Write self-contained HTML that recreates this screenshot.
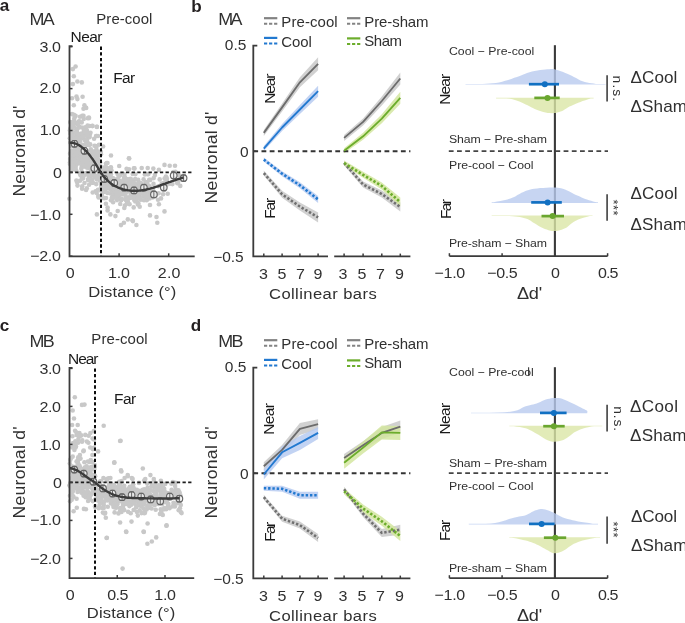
<!DOCTYPE html><html><head><meta charset="utf-8"><style>html,body{margin:0;padding:0;background:#fff;width:685px;height:623px;overflow:hidden}svg{display:block;will-change:transform}text{font-family:"Liberation Sans", sans-serif}</style></head><body><svg width="685" height="623" viewBox="0 0 685 623"><circle cx="74.2" cy="122.0" r="2.3" fill="#c8c8c8"/>
<circle cx="74.4" cy="139.5" r="2.3" fill="#c8c8c8"/>
<circle cx="74.8" cy="143.8" r="2.3" fill="#c8c8c8"/>
<circle cx="74.9" cy="147.0" r="2.3" fill="#c8c8c8"/>
<circle cx="76.1" cy="153.8" r="2.3" fill="#c8c8c8"/>
<circle cx="72.7" cy="145.6" r="2.3" fill="#c8c8c8"/>
<circle cx="70.5" cy="160.4" r="2.3" fill="#c8c8c8"/>
<circle cx="69.9" cy="130.5" r="2.3" fill="#c8c8c8"/>
<circle cx="79.8" cy="173.3" r="2.3" fill="#c8c8c8"/>
<circle cx="76.0" cy="147.2" r="2.3" fill="#c8c8c8"/>
<circle cx="71.2" cy="170.3" r="2.3" fill="#c8c8c8"/>
<circle cx="70.1" cy="153.7" r="2.3" fill="#c8c8c8"/>
<circle cx="71.5" cy="152.2" r="2.3" fill="#c8c8c8"/>
<circle cx="74.4" cy="155.7" r="2.3" fill="#c8c8c8"/>
<circle cx="74.1" cy="162.0" r="2.3" fill="#c8c8c8"/>
<circle cx="76.2" cy="136.8" r="2.3" fill="#c8c8c8"/>
<circle cx="74.7" cy="143.3" r="2.3" fill="#c8c8c8"/>
<circle cx="72.4" cy="137.9" r="2.3" fill="#c8c8c8"/>
<circle cx="80.0" cy="180.7" r="2.3" fill="#c8c8c8"/>
<circle cx="76.9" cy="151.2" r="2.3" fill="#c8c8c8"/>
<circle cx="72.8" cy="153.6" r="2.3" fill="#c8c8c8"/>
<circle cx="70.2" cy="164.3" r="2.3" fill="#c8c8c8"/>
<circle cx="77.5" cy="128.5" r="2.3" fill="#c8c8c8"/>
<circle cx="73.6" cy="169.0" r="2.3" fill="#c8c8c8"/>
<circle cx="79.6" cy="152.3" r="2.3" fill="#c8c8c8"/>
<circle cx="71.7" cy="151.6" r="2.3" fill="#c8c8c8"/>
<circle cx="79.1" cy="122.0" r="2.3" fill="#c8c8c8"/>
<circle cx="73.7" cy="159.9" r="2.3" fill="#c8c8c8"/>
<circle cx="70.3" cy="134.1" r="2.3" fill="#c8c8c8"/>
<circle cx="72.3" cy="133.1" r="2.3" fill="#c8c8c8"/>
<circle cx="70.4" cy="132.8" r="2.3" fill="#c8c8c8"/>
<circle cx="77.5" cy="185.6" r="2.3" fill="#c8c8c8"/>
<circle cx="70.7" cy="152.2" r="2.3" fill="#c8c8c8"/>
<circle cx="70.1" cy="158.9" r="2.3" fill="#c8c8c8"/>
<circle cx="77.9" cy="160.4" r="2.3" fill="#c8c8c8"/>
<circle cx="74.2" cy="169.3" r="2.3" fill="#c8c8c8"/>
<circle cx="71.5" cy="151.1" r="2.3" fill="#c8c8c8"/>
<circle cx="76.3" cy="144.1" r="2.3" fill="#c8c8c8"/>
<circle cx="70.7" cy="142.9" r="2.3" fill="#c8c8c8"/>
<circle cx="72.3" cy="157.0" r="2.3" fill="#c8c8c8"/>
<circle cx="79.7" cy="156.2" r="2.3" fill="#c8c8c8"/>
<circle cx="78.8" cy="139.9" r="2.3" fill="#c8c8c8"/>
<circle cx="71.7" cy="128.8" r="2.3" fill="#c8c8c8"/>
<circle cx="76.2" cy="170.2" r="2.3" fill="#c8c8c8"/>
<circle cx="70.6" cy="162.4" r="2.3" fill="#c8c8c8"/>
<circle cx="72.2" cy="151.3" r="2.3" fill="#c8c8c8"/>
<circle cx="77.6" cy="146.0" r="2.3" fill="#c8c8c8"/>
<circle cx="70.3" cy="163.1" r="2.3" fill="#c8c8c8"/>
<circle cx="70.4" cy="142.3" r="2.3" fill="#c8c8c8"/>
<circle cx="75.8" cy="146.4" r="2.3" fill="#c8c8c8"/>
<circle cx="73.4" cy="122.0" r="2.3" fill="#c8c8c8"/>
<circle cx="74.6" cy="163.0" r="2.3" fill="#c8c8c8"/>
<circle cx="75.5" cy="158.4" r="2.3" fill="#c8c8c8"/>
<circle cx="71.1" cy="144.9" r="2.3" fill="#c8c8c8"/>
<circle cx="79.0" cy="156.7" r="2.3" fill="#c8c8c8"/>
<circle cx="71.5" cy="141.7" r="2.3" fill="#c8c8c8"/>
<circle cx="77.3" cy="161.2" r="2.3" fill="#c8c8c8"/>
<circle cx="79.5" cy="148.4" r="2.3" fill="#c8c8c8"/>
<circle cx="78.8" cy="139.5" r="2.3" fill="#c8c8c8"/>
<circle cx="70.6" cy="142.5" r="2.3" fill="#c8c8c8"/>
<circle cx="69.9" cy="162.8" r="2.3" fill="#c8c8c8"/>
<circle cx="76.9" cy="149.4" r="2.3" fill="#c8c8c8"/>
<circle cx="72.2" cy="161.0" r="2.3" fill="#c8c8c8"/>
<circle cx="72.6" cy="133.9" r="2.3" fill="#c8c8c8"/>
<circle cx="71.3" cy="151.0" r="2.3" fill="#c8c8c8"/>
<circle cx="71.9" cy="146.4" r="2.3" fill="#c8c8c8"/>
<circle cx="75.4" cy="164.4" r="2.3" fill="#c8c8c8"/>
<circle cx="72.4" cy="135.4" r="2.3" fill="#c8c8c8"/>
<circle cx="79.1" cy="152.8" r="2.3" fill="#c8c8c8"/>
<circle cx="72.3" cy="154.6" r="2.3" fill="#c8c8c8"/>
<circle cx="74.2" cy="160.7" r="2.3" fill="#c8c8c8"/>
<circle cx="73.4" cy="155.5" r="2.3" fill="#c8c8c8"/>
<circle cx="75.5" cy="161.6" r="2.3" fill="#c8c8c8"/>
<circle cx="78.9" cy="162.5" r="2.3" fill="#c8c8c8"/>
<circle cx="79.8" cy="139.3" r="2.3" fill="#c8c8c8"/>
<circle cx="75.6" cy="132.8" r="2.3" fill="#c8c8c8"/>
<circle cx="71.0" cy="154.8" r="2.3" fill="#c8c8c8"/>
<circle cx="79.1" cy="152.6" r="2.3" fill="#c8c8c8"/>
<circle cx="76.9" cy="155.0" r="2.3" fill="#c8c8c8"/>
<circle cx="76.2" cy="151.3" r="2.3" fill="#c8c8c8"/>
<circle cx="74.6" cy="150.4" r="2.3" fill="#c8c8c8"/>
<circle cx="80.0" cy="139.0" r="2.3" fill="#c8c8c8"/>
<circle cx="70.3" cy="128.5" r="2.3" fill="#c8c8c8"/>
<circle cx="79.0" cy="145.0" r="2.3" fill="#c8c8c8"/>
<circle cx="77.2" cy="144.4" r="2.3" fill="#c8c8c8"/>
<circle cx="79.1" cy="126.5" r="2.3" fill="#c8c8c8"/>
<circle cx="73.2" cy="139.2" r="2.3" fill="#c8c8c8"/>
<circle cx="78.6" cy="122.4" r="2.3" fill="#c8c8c8"/>
<circle cx="73.9" cy="159.5" r="2.3" fill="#c8c8c8"/>
<circle cx="75.5" cy="123.0" r="2.3" fill="#c8c8c8"/>
<circle cx="76.1" cy="137.3" r="2.3" fill="#c8c8c8"/>
<circle cx="75.9" cy="165.4" r="2.3" fill="#c8c8c8"/>
<circle cx="70.3" cy="122.0" r="2.3" fill="#c8c8c8"/>
<circle cx="78.7" cy="122.0" r="2.3" fill="#c8c8c8"/>
<circle cx="77.1" cy="133.3" r="2.3" fill="#c8c8c8"/>
<circle cx="75.6" cy="167.8" r="2.3" fill="#c8c8c8"/>
<circle cx="74.1" cy="155.3" r="2.3" fill="#c8c8c8"/>
<circle cx="77.4" cy="146.7" r="2.3" fill="#c8c8c8"/>
<circle cx="69.8" cy="138.2" r="2.3" fill="#c8c8c8"/>
<circle cx="71.9" cy="141.8" r="2.3" fill="#c8c8c8"/>
<circle cx="76.8" cy="131.3" r="2.3" fill="#c8c8c8"/>
<circle cx="79.2" cy="152.4" r="2.3" fill="#c8c8c8"/>
<circle cx="72.2" cy="164.7" r="2.3" fill="#c8c8c8"/>
<circle cx="76.6" cy="152.9" r="2.3" fill="#c8c8c8"/>
<circle cx="71.6" cy="167.8" r="2.3" fill="#c8c8c8"/>
<circle cx="76.4" cy="180.5" r="2.3" fill="#c8c8c8"/>
<circle cx="74.1" cy="162.4" r="2.3" fill="#c8c8c8"/>
<circle cx="76.5" cy="143.6" r="2.3" fill="#c8c8c8"/>
<circle cx="71.6" cy="127.4" r="2.3" fill="#c8c8c8"/>
<circle cx="79.1" cy="163.4" r="2.3" fill="#c8c8c8"/>
<circle cx="78.7" cy="137.2" r="2.3" fill="#c8c8c8"/>
<circle cx="72.8" cy="165.2" r="2.3" fill="#c8c8c8"/>
<circle cx="70.9" cy="123.4" r="2.3" fill="#c8c8c8"/>
<circle cx="88.5" cy="157.6" r="2.3" fill="#c8c8c8"/>
<circle cx="87.1" cy="167.7" r="2.3" fill="#c8c8c8"/>
<circle cx="81.7" cy="153.5" r="2.3" fill="#c8c8c8"/>
<circle cx="84.5" cy="155.5" r="2.3" fill="#c8c8c8"/>
<circle cx="84.1" cy="166.6" r="2.3" fill="#c8c8c8"/>
<circle cx="86.3" cy="144.8" r="2.3" fill="#c8c8c8"/>
<circle cx="88.4" cy="157.5" r="2.3" fill="#c8c8c8"/>
<circle cx="89.8" cy="151.7" r="2.3" fill="#c8c8c8"/>
<circle cx="80.3" cy="158.6" r="2.3" fill="#c8c8c8"/>
<circle cx="88.7" cy="178.2" r="2.3" fill="#c8c8c8"/>
<circle cx="85.7" cy="162.7" r="2.3" fill="#c8c8c8"/>
<circle cx="83.1" cy="157.7" r="2.3" fill="#c8c8c8"/>
<circle cx="81.4" cy="154.3" r="2.3" fill="#c8c8c8"/>
<circle cx="84.5" cy="183.0" r="2.3" fill="#c8c8c8"/>
<circle cx="82.4" cy="161.1" r="2.3" fill="#c8c8c8"/>
<circle cx="81.4" cy="175.9" r="2.3" fill="#c8c8c8"/>
<circle cx="84.5" cy="162.7" r="2.3" fill="#c8c8c8"/>
<circle cx="86.3" cy="142.7" r="2.3" fill="#c8c8c8"/>
<circle cx="89.6" cy="136.0" r="2.3" fill="#c8c8c8"/>
<circle cx="86.8" cy="162.0" r="2.3" fill="#c8c8c8"/>
<circle cx="81.8" cy="172.1" r="2.3" fill="#c8c8c8"/>
<circle cx="80.1" cy="135.2" r="2.3" fill="#c8c8c8"/>
<circle cx="81.8" cy="160.9" r="2.3" fill="#c8c8c8"/>
<circle cx="82.7" cy="144.8" r="2.3" fill="#c8c8c8"/>
<circle cx="85.2" cy="174.8" r="2.3" fill="#c8c8c8"/>
<circle cx="86.1" cy="157.5" r="2.3" fill="#c8c8c8"/>
<circle cx="87.9" cy="143.0" r="2.3" fill="#c8c8c8"/>
<circle cx="89.1" cy="184.8" r="2.3" fill="#c8c8c8"/>
<circle cx="87.2" cy="173.9" r="2.3" fill="#c8c8c8"/>
<circle cx="81.3" cy="138.2" r="2.3" fill="#c8c8c8"/>
<circle cx="89.1" cy="162.6" r="2.3" fill="#c8c8c8"/>
<circle cx="83.8" cy="130.9" r="2.3" fill="#c8c8c8"/>
<circle cx="88.0" cy="144.9" r="2.3" fill="#c8c8c8"/>
<circle cx="89.4" cy="137.2" r="2.3" fill="#c8c8c8"/>
<circle cx="82.0" cy="161.6" r="2.3" fill="#c8c8c8"/>
<circle cx="87.2" cy="165.4" r="2.3" fill="#c8c8c8"/>
<circle cx="87.2" cy="138.8" r="2.3" fill="#c8c8c8"/>
<circle cx="82.1" cy="188.8" r="2.3" fill="#c8c8c8"/>
<circle cx="89.8" cy="133.9" r="2.3" fill="#c8c8c8"/>
<circle cx="85.4" cy="160.1" r="2.3" fill="#c8c8c8"/>
<circle cx="89.1" cy="145.1" r="2.3" fill="#c8c8c8"/>
<circle cx="88.6" cy="153.6" r="2.3" fill="#c8c8c8"/>
<circle cx="84.4" cy="161.7" r="2.3" fill="#c8c8c8"/>
<circle cx="85.5" cy="158.9" r="2.3" fill="#c8c8c8"/>
<circle cx="80.3" cy="140.9" r="2.3" fill="#c8c8c8"/>
<circle cx="88.1" cy="180.1" r="2.3" fill="#c8c8c8"/>
<circle cx="81.7" cy="166.8" r="2.3" fill="#c8c8c8"/>
<circle cx="83.4" cy="158.8" r="2.3" fill="#c8c8c8"/>
<circle cx="81.5" cy="149.5" r="2.3" fill="#c8c8c8"/>
<circle cx="85.2" cy="152.6" r="2.3" fill="#c8c8c8"/>
<circle cx="86.9" cy="130.6" r="2.3" fill="#c8c8c8"/>
<circle cx="89.5" cy="126.0" r="2.3" fill="#c8c8c8"/>
<circle cx="80.9" cy="158.6" r="2.3" fill="#c8c8c8"/>
<circle cx="82.2" cy="145.6" r="2.3" fill="#c8c8c8"/>
<circle cx="87.3" cy="155.1" r="2.3" fill="#c8c8c8"/>
<circle cx="86.4" cy="130.3" r="2.3" fill="#c8c8c8"/>
<circle cx="85.6" cy="153.2" r="2.3" fill="#c8c8c8"/>
<circle cx="83.1" cy="137.1" r="2.3" fill="#c8c8c8"/>
<circle cx="89.0" cy="175.4" r="2.3" fill="#c8c8c8"/>
<circle cx="82.1" cy="178.8" r="2.3" fill="#c8c8c8"/>
<circle cx="85.2" cy="127.3" r="2.3" fill="#c8c8c8"/>
<circle cx="85.7" cy="162.3" r="2.3" fill="#c8c8c8"/>
<circle cx="85.0" cy="173.5" r="2.3" fill="#c8c8c8"/>
<circle cx="86.1" cy="190.0" r="2.3" fill="#c8c8c8"/>
<circle cx="85.2" cy="163.4" r="2.3" fill="#c8c8c8"/>
<circle cx="84.0" cy="162.7" r="2.3" fill="#c8c8c8"/>
<circle cx="84.9" cy="139.9" r="2.3" fill="#c8c8c8"/>
<circle cx="86.9" cy="172.9" r="2.3" fill="#c8c8c8"/>
<circle cx="84.1" cy="164.0" r="2.3" fill="#c8c8c8"/>
<circle cx="89.6" cy="166.8" r="2.3" fill="#c8c8c8"/>
<circle cx="84.7" cy="151.9" r="2.3" fill="#c8c8c8"/>
<circle cx="81.3" cy="133.5" r="2.3" fill="#c8c8c8"/>
<circle cx="89.0" cy="167.4" r="2.3" fill="#c8c8c8"/>
<circle cx="84.8" cy="153.3" r="2.3" fill="#c8c8c8"/>
<circle cx="86.2" cy="165.3" r="2.3" fill="#c8c8c8"/>
<circle cx="89.3" cy="173.7" r="2.3" fill="#c8c8c8"/>
<circle cx="80.2" cy="174.7" r="2.3" fill="#c8c8c8"/>
<circle cx="81.9" cy="160.0" r="2.3" fill="#c8c8c8"/>
<circle cx="83.2" cy="178.1" r="2.3" fill="#c8c8c8"/>
<circle cx="83.6" cy="152.2" r="2.3" fill="#c8c8c8"/>
<circle cx="87.3" cy="152.5" r="2.3" fill="#c8c8c8"/>
<circle cx="81.2" cy="146.4" r="2.3" fill="#c8c8c8"/>
<circle cx="82.0" cy="156.3" r="2.3" fill="#c8c8c8"/>
<circle cx="85.3" cy="144.5" r="2.3" fill="#c8c8c8"/>
<circle cx="84.1" cy="162.3" r="2.3" fill="#c8c8c8"/>
<circle cx="85.3" cy="162.1" r="2.3" fill="#c8c8c8"/>
<circle cx="86.3" cy="165.0" r="2.3" fill="#c8c8c8"/>
<circle cx="86.4" cy="130.1" r="2.3" fill="#c8c8c8"/>
<circle cx="86.1" cy="151.9" r="2.3" fill="#c8c8c8"/>
<circle cx="88.6" cy="159.5" r="2.3" fill="#c8c8c8"/>
<circle cx="88.1" cy="179.9" r="2.3" fill="#c8c8c8"/>
<circle cx="89.0" cy="152.1" r="2.3" fill="#c8c8c8"/>
<circle cx="89.2" cy="168.1" r="2.3" fill="#c8c8c8"/>
<circle cx="82.2" cy="186.3" r="2.3" fill="#c8c8c8"/>
<circle cx="81.3" cy="156.7" r="2.3" fill="#c8c8c8"/>
<circle cx="82.4" cy="155.4" r="2.3" fill="#c8c8c8"/>
<circle cx="81.0" cy="146.3" r="2.3" fill="#c8c8c8"/>
<circle cx="88.3" cy="135.2" r="2.3" fill="#c8c8c8"/>
<circle cx="81.3" cy="168.7" r="2.3" fill="#c8c8c8"/>
<circle cx="84.0" cy="156.0" r="2.3" fill="#c8c8c8"/>
<circle cx="82.0" cy="154.6" r="2.3" fill="#c8c8c8"/>
<circle cx="86.8" cy="188.2" r="2.3" fill="#c8c8c8"/>
<circle cx="81.2" cy="137.6" r="2.3" fill="#c8c8c8"/>
<circle cx="85.1" cy="157.8" r="2.3" fill="#c8c8c8"/>
<circle cx="86.9" cy="140.5" r="2.3" fill="#c8c8c8"/>
<circle cx="81.9" cy="163.0" r="2.3" fill="#c8c8c8"/>
<circle cx="90.4" cy="168.4" r="2.3" fill="#c8c8c8"/>
<circle cx="96.1" cy="150.5" r="2.3" fill="#c8c8c8"/>
<circle cx="91.6" cy="164.6" r="2.3" fill="#c8c8c8"/>
<circle cx="92.0" cy="172.6" r="2.3" fill="#c8c8c8"/>
<circle cx="100.9" cy="188.0" r="2.3" fill="#c8c8c8"/>
<circle cx="100.2" cy="169.5" r="2.3" fill="#c8c8c8"/>
<circle cx="100.5" cy="168.4" r="2.3" fill="#c8c8c8"/>
<circle cx="95.1" cy="167.0" r="2.3" fill="#c8c8c8"/>
<circle cx="95.1" cy="155.4" r="2.3" fill="#c8c8c8"/>
<circle cx="95.7" cy="151.3" r="2.3" fill="#c8c8c8"/>
<circle cx="90.1" cy="172.9" r="2.3" fill="#c8c8c8"/>
<circle cx="97.7" cy="170.2" r="2.3" fill="#c8c8c8"/>
<circle cx="95.0" cy="159.7" r="2.3" fill="#c8c8c8"/>
<circle cx="98.1" cy="159.5" r="2.3" fill="#c8c8c8"/>
<circle cx="91.8" cy="170.4" r="2.3" fill="#c8c8c8"/>
<circle cx="95.6" cy="191.3" r="2.3" fill="#c8c8c8"/>
<circle cx="98.8" cy="168.5" r="2.3" fill="#c8c8c8"/>
<circle cx="97.8" cy="176.8" r="2.3" fill="#c8c8c8"/>
<circle cx="94.4" cy="153.0" r="2.3" fill="#c8c8c8"/>
<circle cx="96.6" cy="136.0" r="2.3" fill="#c8c8c8"/>
<circle cx="98.9" cy="165.1" r="2.3" fill="#c8c8c8"/>
<circle cx="92.8" cy="182.8" r="2.3" fill="#c8c8c8"/>
<circle cx="98.6" cy="155.5" r="2.3" fill="#c8c8c8"/>
<circle cx="99.0" cy="144.8" r="2.3" fill="#c8c8c8"/>
<circle cx="99.7" cy="180.3" r="2.3" fill="#c8c8c8"/>
<circle cx="97.6" cy="168.2" r="2.3" fill="#c8c8c8"/>
<circle cx="94.5" cy="145.7" r="2.3" fill="#c8c8c8"/>
<circle cx="97.9" cy="175.9" r="2.3" fill="#c8c8c8"/>
<circle cx="95.2" cy="170.7" r="2.3" fill="#c8c8c8"/>
<circle cx="90.1" cy="155.5" r="2.3" fill="#c8c8c8"/>
<circle cx="96.9" cy="179.5" r="2.3" fill="#c8c8c8"/>
<circle cx="92.6" cy="182.7" r="2.3" fill="#c8c8c8"/>
<circle cx="93.7" cy="159.9" r="2.3" fill="#c8c8c8"/>
<circle cx="97.3" cy="152.6" r="2.3" fill="#c8c8c8"/>
<circle cx="94.3" cy="159.7" r="2.3" fill="#c8c8c8"/>
<circle cx="101.0" cy="154.3" r="2.3" fill="#c8c8c8"/>
<circle cx="98.4" cy="151.5" r="2.3" fill="#c8c8c8"/>
<circle cx="100.8" cy="182.4" r="2.3" fill="#c8c8c8"/>
<circle cx="98.1" cy="168.4" r="2.3" fill="#c8c8c8"/>
<circle cx="92.8" cy="162.9" r="2.3" fill="#c8c8c8"/>
<circle cx="92.1" cy="168.2" r="2.3" fill="#c8c8c8"/>
<circle cx="94.1" cy="173.4" r="2.3" fill="#c8c8c8"/>
<circle cx="100.0" cy="171.3" r="2.3" fill="#c8c8c8"/>
<circle cx="96.1" cy="136.0" r="2.3" fill="#c8c8c8"/>
<circle cx="96.2" cy="164.5" r="2.3" fill="#c8c8c8"/>
<circle cx="100.9" cy="151.9" r="2.3" fill="#c8c8c8"/>
<circle cx="90.8" cy="149.3" r="2.3" fill="#c8c8c8"/>
<circle cx="96.6" cy="166.2" r="2.3" fill="#c8c8c8"/>
<circle cx="100.2" cy="162.4" r="2.3" fill="#c8c8c8"/>
<circle cx="91.8" cy="158.8" r="2.3" fill="#c8c8c8"/>
<circle cx="95.5" cy="167.3" r="2.3" fill="#c8c8c8"/>
<circle cx="96.7" cy="193.0" r="2.3" fill="#c8c8c8"/>
<circle cx="94.6" cy="176.4" r="2.3" fill="#c8c8c8"/>
<circle cx="95.8" cy="156.6" r="2.3" fill="#c8c8c8"/>
<circle cx="93.1" cy="159.4" r="2.3" fill="#c8c8c8"/>
<circle cx="97.2" cy="156.9" r="2.3" fill="#c8c8c8"/>
<circle cx="97.9" cy="162.4" r="2.3" fill="#c8c8c8"/>
<circle cx="93.3" cy="175.0" r="2.3" fill="#c8c8c8"/>
<circle cx="90.5" cy="166.8" r="2.3" fill="#c8c8c8"/>
<circle cx="91.7" cy="166.3" r="2.3" fill="#c8c8c8"/>
<circle cx="99.9" cy="154.1" r="2.3" fill="#c8c8c8"/>
<circle cx="98.2" cy="196.0" r="2.3" fill="#c8c8c8"/>
<circle cx="100.4" cy="177.1" r="2.3" fill="#c8c8c8"/>
<circle cx="90.8" cy="176.5" r="2.3" fill="#c8c8c8"/>
<circle cx="95.3" cy="158.9" r="2.3" fill="#c8c8c8"/>
<circle cx="100.7" cy="166.6" r="2.3" fill="#c8c8c8"/>
<circle cx="100.3" cy="180.6" r="2.3" fill="#c8c8c8"/>
<circle cx="98.0" cy="136.0" r="2.3" fill="#c8c8c8"/>
<circle cx="99.0" cy="172.6" r="2.3" fill="#c8c8c8"/>
<circle cx="96.6" cy="178.6" r="2.3" fill="#c8c8c8"/>
<circle cx="95.0" cy="177.1" r="2.3" fill="#c8c8c8"/>
<circle cx="92.2" cy="179.9" r="2.3" fill="#c8c8c8"/>
<circle cx="91.4" cy="170.7" r="2.3" fill="#c8c8c8"/>
<circle cx="94.9" cy="159.5" r="2.3" fill="#c8c8c8"/>
<circle cx="92.9" cy="154.5" r="2.3" fill="#c8c8c8"/>
<circle cx="96.4" cy="147.8" r="2.3" fill="#c8c8c8"/>
<circle cx="95.8" cy="176.1" r="2.3" fill="#c8c8c8"/>
<circle cx="101.0" cy="184.7" r="2.3" fill="#c8c8c8"/>
<circle cx="92.6" cy="160.3" r="2.3" fill="#c8c8c8"/>
<circle cx="91.3" cy="182.4" r="2.3" fill="#c8c8c8"/>
<circle cx="96.9" cy="152.9" r="2.3" fill="#c8c8c8"/>
<circle cx="94.0" cy="163.5" r="2.3" fill="#c8c8c8"/>
<circle cx="96.2" cy="184.1" r="2.3" fill="#c8c8c8"/>
<circle cx="96.5" cy="152.5" r="2.3" fill="#c8c8c8"/>
<circle cx="92.1" cy="151.1" r="2.3" fill="#c8c8c8"/>
<circle cx="92.7" cy="192.5" r="2.3" fill="#c8c8c8"/>
<circle cx="99.7" cy="162.6" r="2.3" fill="#c8c8c8"/>
<circle cx="90.4" cy="174.9" r="2.3" fill="#c8c8c8"/>
<circle cx="94.7" cy="169.6" r="2.3" fill="#c8c8c8"/>
<circle cx="96.9" cy="178.0" r="2.3" fill="#c8c8c8"/>
<circle cx="90.8" cy="175.0" r="2.3" fill="#c8c8c8"/>
<circle cx="91.0" cy="159.2" r="2.3" fill="#c8c8c8"/>
<circle cx="83.7" cy="118.9" r="2.3" fill="#c8c8c8"/>
<circle cx="77.9" cy="122.5" r="2.3" fill="#c8c8c8"/>
<circle cx="77.2" cy="128.7" r="2.3" fill="#c8c8c8"/>
<circle cx="86.3" cy="129.7" r="2.3" fill="#c8c8c8"/>
<circle cx="72.2" cy="125.3" r="2.3" fill="#c8c8c8"/>
<circle cx="87.7" cy="118.2" r="2.3" fill="#c8c8c8"/>
<circle cx="74.3" cy="118.4" r="2.3" fill="#c8c8c8"/>
<circle cx="79.0" cy="127.3" r="2.3" fill="#c8c8c8"/>
<circle cx="77.8" cy="142.6" r="2.3" fill="#c8c8c8"/>
<circle cx="84.2" cy="135.1" r="2.3" fill="#c8c8c8"/>
<circle cx="81.8" cy="127.5" r="2.3" fill="#c8c8c8"/>
<circle cx="86.3" cy="135.4" r="2.3" fill="#c8c8c8"/>
<circle cx="77.8" cy="124.0" r="2.3" fill="#c8c8c8"/>
<circle cx="71.7" cy="130.3" r="2.3" fill="#c8c8c8"/>
<circle cx="71.4" cy="125.7" r="2.3" fill="#c8c8c8"/>
<circle cx="82.2" cy="115.9" r="2.3" fill="#c8c8c8"/>
<circle cx="76.2" cy="129.2" r="2.3" fill="#c8c8c8"/>
<circle cx="86.9" cy="132.9" r="2.3" fill="#c8c8c8"/>
<circle cx="84.4" cy="130.5" r="2.3" fill="#c8c8c8"/>
<circle cx="71.3" cy="123.7" r="2.3" fill="#c8c8c8"/>
<circle cx="85.1" cy="140.1" r="2.3" fill="#c8c8c8"/>
<circle cx="75.9" cy="132.7" r="2.3" fill="#c8c8c8"/>
<circle cx="85.8" cy="133.9" r="2.3" fill="#c8c8c8"/>
<circle cx="77.7" cy="137.3" r="2.3" fill="#c8c8c8"/>
<circle cx="82.3" cy="136.5" r="2.3" fill="#c8c8c8"/>
<circle cx="90.2" cy="144.4" r="2.3" fill="#c8c8c8"/>
<circle cx="79.4" cy="121.5" r="2.3" fill="#c8c8c8"/>
<circle cx="87.6" cy="125.6" r="2.3" fill="#c8c8c8"/>
<circle cx="78.5" cy="134.6" r="2.3" fill="#c8c8c8"/>
<circle cx="90.5" cy="132.8" r="2.3" fill="#c8c8c8"/>
<circle cx="77.6" cy="124.3" r="2.3" fill="#c8c8c8"/>
<circle cx="77.7" cy="122.8" r="2.3" fill="#c8c8c8"/>
<circle cx="78.2" cy="134.1" r="2.3" fill="#c8c8c8"/>
<circle cx="73.9" cy="114.8" r="2.3" fill="#c8c8c8"/>
<circle cx="81.7" cy="122.4" r="2.3" fill="#c8c8c8"/>
<circle cx="111.0" cy="177.8" r="2.3" fill="#c8c8c8"/>
<circle cx="110.1" cy="180.8" r="2.3" fill="#c8c8c8"/>
<circle cx="111.6" cy="182.6" r="2.3" fill="#c8c8c8"/>
<circle cx="107.2" cy="184.9" r="2.3" fill="#c8c8c8"/>
<circle cx="107.5" cy="163.0" r="2.3" fill="#c8c8c8"/>
<circle cx="108.8" cy="173.4" r="2.3" fill="#c8c8c8"/>
<circle cx="110.7" cy="193.4" r="2.3" fill="#c8c8c8"/>
<circle cx="110.5" cy="187.4" r="2.3" fill="#c8c8c8"/>
<circle cx="102.0" cy="195.8" r="2.3" fill="#c8c8c8"/>
<circle cx="111.8" cy="190.2" r="2.3" fill="#c8c8c8"/>
<circle cx="102.0" cy="179.7" r="2.3" fill="#c8c8c8"/>
<circle cx="109.9" cy="179.3" r="2.3" fill="#c8c8c8"/>
<circle cx="108.8" cy="183.2" r="2.3" fill="#c8c8c8"/>
<circle cx="110.2" cy="189.3" r="2.3" fill="#c8c8c8"/>
<circle cx="107.3" cy="183.8" r="2.3" fill="#c8c8c8"/>
<circle cx="105.1" cy="174.0" r="2.3" fill="#c8c8c8"/>
<circle cx="112.6" cy="178.1" r="2.3" fill="#c8c8c8"/>
<circle cx="107.4" cy="173.7" r="2.3" fill="#c8c8c8"/>
<circle cx="109.7" cy="177.8" r="2.3" fill="#c8c8c8"/>
<circle cx="105.9" cy="163.7" r="2.3" fill="#c8c8c8"/>
<circle cx="110.9" cy="174.2" r="2.3" fill="#c8c8c8"/>
<circle cx="110.7" cy="167.7" r="2.3" fill="#c8c8c8"/>
<circle cx="111.0" cy="200.3" r="2.3" fill="#c8c8c8"/>
<circle cx="108.7" cy="168.4" r="2.3" fill="#c8c8c8"/>
<circle cx="107.3" cy="179.0" r="2.3" fill="#c8c8c8"/>
<circle cx="106.1" cy="167.3" r="2.3" fill="#c8c8c8"/>
<circle cx="106.0" cy="192.0" r="2.3" fill="#c8c8c8"/>
<circle cx="112.9" cy="194.8" r="2.3" fill="#c8c8c8"/>
<circle cx="105.5" cy="186.0" r="2.3" fill="#c8c8c8"/>
<circle cx="106.1" cy="188.3" r="2.3" fill="#c8c8c8"/>
<circle cx="104.5" cy="186.1" r="2.3" fill="#c8c8c8"/>
<circle cx="104.7" cy="182.4" r="2.3" fill="#c8c8c8"/>
<circle cx="102.4" cy="173.7" r="2.3" fill="#c8c8c8"/>
<circle cx="103.2" cy="170.5" r="2.3" fill="#c8c8c8"/>
<circle cx="101.7" cy="171.5" r="2.3" fill="#c8c8c8"/>
<circle cx="111.9" cy="186.1" r="2.3" fill="#c8c8c8"/>
<circle cx="101.4" cy="187.5" r="2.3" fill="#c8c8c8"/>
<circle cx="103.6" cy="186.6" r="2.3" fill="#c8c8c8"/>
<circle cx="103.8" cy="180.5" r="2.3" fill="#c8c8c8"/>
<circle cx="103.7" cy="171.2" r="2.3" fill="#c8c8c8"/>
<circle cx="103.2" cy="181.9" r="2.3" fill="#c8c8c8"/>
<circle cx="110.1" cy="188.4" r="2.3" fill="#c8c8c8"/>
<circle cx="104.7" cy="167.2" r="2.3" fill="#c8c8c8"/>
<circle cx="106.8" cy="178.0" r="2.3" fill="#c8c8c8"/>
<circle cx="104.1" cy="198.2" r="2.3" fill="#c8c8c8"/>
<circle cx="105.1" cy="170.0" r="2.3" fill="#c8c8c8"/>
<circle cx="107.6" cy="193.0" r="2.3" fill="#c8c8c8"/>
<circle cx="103.7" cy="180.2" r="2.3" fill="#c8c8c8"/>
<circle cx="101.6" cy="198.3" r="2.3" fill="#c8c8c8"/>
<circle cx="105.6" cy="177.8" r="2.3" fill="#c8c8c8"/>
<circle cx="107.3" cy="175.8" r="2.3" fill="#c8c8c8"/>
<circle cx="112.9" cy="182.3" r="2.3" fill="#c8c8c8"/>
<circle cx="108.9" cy="183.1" r="2.3" fill="#c8c8c8"/>
<circle cx="106.7" cy="184.3" r="2.3" fill="#c8c8c8"/>
<circle cx="105.5" cy="187.1" r="2.3" fill="#c8c8c8"/>
<circle cx="108.3" cy="169.4" r="2.3" fill="#c8c8c8"/>
<circle cx="102.9" cy="187.4" r="2.3" fill="#c8c8c8"/>
<circle cx="104.1" cy="189.6" r="2.3" fill="#c8c8c8"/>
<circle cx="111.4" cy="170.3" r="2.3" fill="#c8c8c8"/>
<circle cx="112.9" cy="181.7" r="2.3" fill="#c8c8c8"/>
<circle cx="104.2" cy="178.0" r="2.3" fill="#c8c8c8"/>
<circle cx="110.2" cy="181.9" r="2.3" fill="#c8c8c8"/>
<circle cx="101.0" cy="190.6" r="2.3" fill="#c8c8c8"/>
<circle cx="110.9" cy="167.3" r="2.3" fill="#c8c8c8"/>
<circle cx="102.0" cy="181.2" r="2.3" fill="#c8c8c8"/>
<circle cx="102.2" cy="197.2" r="2.3" fill="#c8c8c8"/>
<circle cx="106.8" cy="163.0" r="2.3" fill="#c8c8c8"/>
<circle cx="108.0" cy="187.4" r="2.3" fill="#c8c8c8"/>
<circle cx="111.3" cy="177.8" r="2.3" fill="#c8c8c8"/>
<circle cx="106.0" cy="198.0" r="2.3" fill="#c8c8c8"/>
<circle cx="112.0" cy="197.2" r="2.3" fill="#c8c8c8"/>
<circle cx="103.5" cy="192.1" r="2.3" fill="#c8c8c8"/>
<circle cx="107.5" cy="177.8" r="2.3" fill="#c8c8c8"/>
<circle cx="111.0" cy="182.2" r="2.3" fill="#c8c8c8"/>
<circle cx="104.7" cy="181.7" r="2.3" fill="#c8c8c8"/>
<circle cx="104.7" cy="186.3" r="2.3" fill="#c8c8c8"/>
<circle cx="106.6" cy="181.2" r="2.3" fill="#c8c8c8"/>
<circle cx="109.2" cy="174.7" r="2.3" fill="#c8c8c8"/>
<circle cx="114.3" cy="179.6" r="2.3" fill="#c8c8c8"/>
<circle cx="124.6" cy="192.8" r="2.3" fill="#c8c8c8"/>
<circle cx="123.0" cy="186.2" r="2.3" fill="#c8c8c8"/>
<circle cx="117.5" cy="185.9" r="2.3" fill="#c8c8c8"/>
<circle cx="121.5" cy="187.9" r="2.3" fill="#c8c8c8"/>
<circle cx="118.5" cy="197.9" r="2.3" fill="#c8c8c8"/>
<circle cx="113.1" cy="202.2" r="2.3" fill="#c8c8c8"/>
<circle cx="115.5" cy="186.2" r="2.3" fill="#c8c8c8"/>
<circle cx="120.4" cy="184.9" r="2.3" fill="#c8c8c8"/>
<circle cx="119.5" cy="195.0" r="2.3" fill="#c8c8c8"/>
<circle cx="116.6" cy="182.6" r="2.3" fill="#c8c8c8"/>
<circle cx="121.0" cy="194.2" r="2.3" fill="#c8c8c8"/>
<circle cx="116.1" cy="191.3" r="2.3" fill="#c8c8c8"/>
<circle cx="117.0" cy="200.1" r="2.3" fill="#c8c8c8"/>
<circle cx="124.3" cy="174.4" r="2.3" fill="#c8c8c8"/>
<circle cx="117.0" cy="181.8" r="2.3" fill="#c8c8c8"/>
<circle cx="122.9" cy="190.9" r="2.3" fill="#c8c8c8"/>
<circle cx="114.1" cy="189.6" r="2.3" fill="#c8c8c8"/>
<circle cx="121.1" cy="185.6" r="2.3" fill="#c8c8c8"/>
<circle cx="117.8" cy="181.8" r="2.3" fill="#c8c8c8"/>
<circle cx="123.0" cy="183.9" r="2.3" fill="#c8c8c8"/>
<circle cx="115.7" cy="185.0" r="2.3" fill="#c8c8c8"/>
<circle cx="114.9" cy="193.2" r="2.3" fill="#c8c8c8"/>
<circle cx="113.9" cy="193.1" r="2.3" fill="#c8c8c8"/>
<circle cx="124.0" cy="177.9" r="2.3" fill="#c8c8c8"/>
<circle cx="120.8" cy="191.5" r="2.3" fill="#c8c8c8"/>
<circle cx="122.2" cy="190.6" r="2.3" fill="#c8c8c8"/>
<circle cx="117.0" cy="179.4" r="2.3" fill="#c8c8c8"/>
<circle cx="117.9" cy="195.6" r="2.3" fill="#c8c8c8"/>
<circle cx="121.4" cy="187.8" r="2.3" fill="#c8c8c8"/>
<circle cx="124.8" cy="190.1" r="2.3" fill="#c8c8c8"/>
<circle cx="120.3" cy="174.9" r="2.3" fill="#c8c8c8"/>
<circle cx="113.2" cy="183.2" r="2.3" fill="#c8c8c8"/>
<circle cx="120.8" cy="193.8" r="2.3" fill="#c8c8c8"/>
<circle cx="114.3" cy="179.7" r="2.3" fill="#c8c8c8"/>
<circle cx="122.5" cy="194.1" r="2.3" fill="#c8c8c8"/>
<circle cx="122.9" cy="183.2" r="2.3" fill="#c8c8c8"/>
<circle cx="122.2" cy="183.8" r="2.3" fill="#c8c8c8"/>
<circle cx="123.8" cy="179.4" r="2.3" fill="#c8c8c8"/>
<circle cx="119.0" cy="184.6" r="2.3" fill="#c8c8c8"/>
<circle cx="114.7" cy="181.3" r="2.3" fill="#c8c8c8"/>
<circle cx="119.2" cy="166.0" r="2.3" fill="#c8c8c8"/>
<circle cx="121.6" cy="189.9" r="2.3" fill="#c8c8c8"/>
<circle cx="124.3" cy="182.2" r="2.3" fill="#c8c8c8"/>
<circle cx="120.5" cy="188.1" r="2.3" fill="#c8c8c8"/>
<circle cx="115.9" cy="190.4" r="2.3" fill="#c8c8c8"/>
<circle cx="119.9" cy="184.5" r="2.3" fill="#c8c8c8"/>
<circle cx="124.1" cy="179.8" r="2.3" fill="#c8c8c8"/>
<circle cx="117.3" cy="182.7" r="2.3" fill="#c8c8c8"/>
<circle cx="124.7" cy="188.0" r="2.3" fill="#c8c8c8"/>
<circle cx="114.6" cy="195.8" r="2.3" fill="#c8c8c8"/>
<circle cx="119.7" cy="181.0" r="2.3" fill="#c8c8c8"/>
<circle cx="119.7" cy="185.3" r="2.3" fill="#c8c8c8"/>
<circle cx="124.9" cy="205.5" r="2.3" fill="#c8c8c8"/>
<circle cx="122.8" cy="183.5" r="2.3" fill="#c8c8c8"/>
<circle cx="122.9" cy="184.4" r="2.3" fill="#c8c8c8"/>
<circle cx="116.5" cy="192.0" r="2.3" fill="#c8c8c8"/>
<circle cx="119.9" cy="183.2" r="2.3" fill="#c8c8c8"/>
<circle cx="123.0" cy="191.2" r="2.3" fill="#c8c8c8"/>
<circle cx="113.9" cy="196.8" r="2.3" fill="#c8c8c8"/>
<circle cx="113.4" cy="197.7" r="2.3" fill="#c8c8c8"/>
<circle cx="124.3" cy="208.0" r="2.3" fill="#c8c8c8"/>
<circle cx="120.9" cy="182.5" r="2.3" fill="#c8c8c8"/>
<circle cx="121.9" cy="198.9" r="2.3" fill="#c8c8c8"/>
<circle cx="117.6" cy="174.1" r="2.3" fill="#c8c8c8"/>
<circle cx="113.2" cy="178.6" r="2.3" fill="#c8c8c8"/>
<circle cx="115.4" cy="182.4" r="2.3" fill="#c8c8c8"/>
<circle cx="117.6" cy="187.9" r="2.3" fill="#c8c8c8"/>
<circle cx="119.8" cy="191.7" r="2.3" fill="#c8c8c8"/>
<circle cx="116.2" cy="196.1" r="2.3" fill="#c8c8c8"/>
<circle cx="119.8" cy="181.0" r="2.3" fill="#c8c8c8"/>
<circle cx="113.5" cy="197.6" r="2.3" fill="#c8c8c8"/>
<circle cx="121.1" cy="200.2" r="2.3" fill="#c8c8c8"/>
<circle cx="120.2" cy="204.0" r="2.3" fill="#c8c8c8"/>
<circle cx="118.6" cy="176.9" r="2.3" fill="#c8c8c8"/>
<circle cx="121.3" cy="193.3" r="2.3" fill="#c8c8c8"/>
<circle cx="122.1" cy="187.1" r="2.3" fill="#c8c8c8"/>
<circle cx="124.9" cy="177.2" r="2.3" fill="#c8c8c8"/>
<circle cx="135.9" cy="194.3" r="2.3" fill="#c8c8c8"/>
<circle cx="130.6" cy="182.1" r="2.3" fill="#c8c8c8"/>
<circle cx="132.4" cy="197.6" r="2.3" fill="#c8c8c8"/>
<circle cx="131.8" cy="183.2" r="2.3" fill="#c8c8c8"/>
<circle cx="130.6" cy="195.2" r="2.3" fill="#c8c8c8"/>
<circle cx="125.7" cy="184.8" r="2.3" fill="#c8c8c8"/>
<circle cx="134.4" cy="200.2" r="2.3" fill="#c8c8c8"/>
<circle cx="132.8" cy="180.9" r="2.3" fill="#c8c8c8"/>
<circle cx="134.8" cy="185.2" r="2.3" fill="#c8c8c8"/>
<circle cx="125.9" cy="199.7" r="2.3" fill="#c8c8c8"/>
<circle cx="126.6" cy="179.5" r="2.3" fill="#c8c8c8"/>
<circle cx="130.2" cy="192.3" r="2.3" fill="#c8c8c8"/>
<circle cx="125.7" cy="185.5" r="2.3" fill="#c8c8c8"/>
<circle cx="128.1" cy="179.2" r="2.3" fill="#c8c8c8"/>
<circle cx="129.0" cy="184.1" r="2.3" fill="#c8c8c8"/>
<circle cx="125.9" cy="192.8" r="2.3" fill="#c8c8c8"/>
<circle cx="136.8" cy="201.3" r="2.3" fill="#c8c8c8"/>
<circle cx="136.3" cy="186.4" r="2.3" fill="#c8c8c8"/>
<circle cx="130.5" cy="191.0" r="2.3" fill="#c8c8c8"/>
<circle cx="134.7" cy="183.3" r="2.3" fill="#c8c8c8"/>
<circle cx="132.4" cy="192.2" r="2.3" fill="#c8c8c8"/>
<circle cx="135.3" cy="186.8" r="2.3" fill="#c8c8c8"/>
<circle cx="126.6" cy="168.7" r="2.3" fill="#c8c8c8"/>
<circle cx="125.0" cy="184.1" r="2.3" fill="#c8c8c8"/>
<circle cx="128.2" cy="186.7" r="2.3" fill="#c8c8c8"/>
<circle cx="125.8" cy="196.2" r="2.3" fill="#c8c8c8"/>
<circle cx="136.6" cy="192.4" r="2.3" fill="#c8c8c8"/>
<circle cx="129.6" cy="181.2" r="2.3" fill="#c8c8c8"/>
<circle cx="132.6" cy="191.0" r="2.3" fill="#c8c8c8"/>
<circle cx="136.7" cy="189.6" r="2.3" fill="#c8c8c8"/>
<circle cx="129.0" cy="169.2" r="2.3" fill="#c8c8c8"/>
<circle cx="137.7" cy="189.2" r="2.3" fill="#c8c8c8"/>
<circle cx="131.1" cy="190.9" r="2.3" fill="#c8c8c8"/>
<circle cx="137.0" cy="195.8" r="2.3" fill="#c8c8c8"/>
<circle cx="136.7" cy="194.4" r="2.3" fill="#c8c8c8"/>
<circle cx="129.6" cy="204.3" r="2.3" fill="#c8c8c8"/>
<circle cx="131.1" cy="197.2" r="2.3" fill="#c8c8c8"/>
<circle cx="137.9" cy="204.4" r="2.3" fill="#c8c8c8"/>
<circle cx="127.6" cy="185.3" r="2.3" fill="#c8c8c8"/>
<circle cx="136.4" cy="184.9" r="2.3" fill="#c8c8c8"/>
<circle cx="125.7" cy="199.7" r="2.3" fill="#c8c8c8"/>
<circle cx="129.1" cy="197.5" r="2.3" fill="#c8c8c8"/>
<circle cx="136.7" cy="198.2" r="2.3" fill="#c8c8c8"/>
<circle cx="126.8" cy="179.2" r="2.3" fill="#c8c8c8"/>
<circle cx="134.0" cy="197.5" r="2.3" fill="#c8c8c8"/>
<circle cx="126.0" cy="185.5" r="2.3" fill="#c8c8c8"/>
<circle cx="127.9" cy="184.3" r="2.3" fill="#c8c8c8"/>
<circle cx="127.6" cy="201.5" r="2.3" fill="#c8c8c8"/>
<circle cx="127.4" cy="190.1" r="2.3" fill="#c8c8c8"/>
<circle cx="135.3" cy="201.5" r="2.3" fill="#c8c8c8"/>
<circle cx="129.8" cy="179.7" r="2.3" fill="#c8c8c8"/>
<circle cx="132.7" cy="174.0" r="2.3" fill="#c8c8c8"/>
<circle cx="128.0" cy="182.9" r="2.3" fill="#c8c8c8"/>
<circle cx="133.7" cy="207.4" r="2.3" fill="#c8c8c8"/>
<circle cx="128.6" cy="186.6" r="2.3" fill="#c8c8c8"/>
<circle cx="137.8" cy="186.2" r="2.3" fill="#c8c8c8"/>
<circle cx="130.7" cy="178.7" r="2.3" fill="#c8c8c8"/>
<circle cx="125.6" cy="187.2" r="2.3" fill="#c8c8c8"/>
<circle cx="132.8" cy="187.6" r="2.3" fill="#c8c8c8"/>
<circle cx="135.4" cy="195.3" r="2.3" fill="#c8c8c8"/>
<circle cx="126.1" cy="185.9" r="2.3" fill="#c8c8c8"/>
<circle cx="128.2" cy="202.9" r="2.3" fill="#c8c8c8"/>
<circle cx="128.6" cy="183.8" r="2.3" fill="#c8c8c8"/>
<circle cx="136.7" cy="187.4" r="2.3" fill="#c8c8c8"/>
<circle cx="137.8" cy="198.2" r="2.3" fill="#c8c8c8"/>
<circle cx="134.8" cy="191.0" r="2.3" fill="#c8c8c8"/>
<circle cx="130.0" cy="198.0" r="2.3" fill="#c8c8c8"/>
<circle cx="127.3" cy="184.7" r="2.3" fill="#c8c8c8"/>
<circle cx="132.2" cy="184.1" r="2.3" fill="#c8c8c8"/>
<circle cx="133.6" cy="182.7" r="2.3" fill="#c8c8c8"/>
<circle cx="135.2" cy="179.0" r="2.3" fill="#c8c8c8"/>
<circle cx="136.0" cy="187.9" r="2.3" fill="#c8c8c8"/>
<circle cx="133.9" cy="168.3" r="2.3" fill="#c8c8c8"/>
<circle cx="127.3" cy="186.3" r="2.3" fill="#c8c8c8"/>
<circle cx="135.1" cy="194.9" r="2.3" fill="#c8c8c8"/>
<circle cx="128.1" cy="199.0" r="2.3" fill="#c8c8c8"/>
<circle cx="130.7" cy="191.2" r="2.3" fill="#c8c8c8"/>
<circle cx="135.3" cy="174.2" r="2.3" fill="#c8c8c8"/>
<circle cx="140.8" cy="183.0" r="2.3" fill="#c8c8c8"/>
<circle cx="145.0" cy="189.4" r="2.3" fill="#c8c8c8"/>
<circle cx="144.0" cy="200.2" r="2.3" fill="#c8c8c8"/>
<circle cx="146.6" cy="191.5" r="2.3" fill="#c8c8c8"/>
<circle cx="144.9" cy="192.7" r="2.3" fill="#c8c8c8"/>
<circle cx="139.8" cy="185.2" r="2.3" fill="#c8c8c8"/>
<circle cx="138.2" cy="179.9" r="2.3" fill="#c8c8c8"/>
<circle cx="143.3" cy="189.2" r="2.3" fill="#c8c8c8"/>
<circle cx="141.2" cy="190.0" r="2.3" fill="#c8c8c8"/>
<circle cx="148.9" cy="185.9" r="2.3" fill="#c8c8c8"/>
<circle cx="144.8" cy="174.5" r="2.3" fill="#c8c8c8"/>
<circle cx="140.9" cy="185.0" r="2.3" fill="#c8c8c8"/>
<circle cx="139.8" cy="188.1" r="2.3" fill="#c8c8c8"/>
<circle cx="141.8" cy="191.3" r="2.3" fill="#c8c8c8"/>
<circle cx="145.5" cy="182.4" r="2.3" fill="#c8c8c8"/>
<circle cx="145.1" cy="187.9" r="2.3" fill="#c8c8c8"/>
<circle cx="139.1" cy="191.2" r="2.3" fill="#c8c8c8"/>
<circle cx="141.1" cy="184.3" r="2.3" fill="#c8c8c8"/>
<circle cx="139.9" cy="183.2" r="2.3" fill="#c8c8c8"/>
<circle cx="147.4" cy="174.1" r="2.3" fill="#c8c8c8"/>
<circle cx="138.7" cy="182.2" r="2.3" fill="#c8c8c8"/>
<circle cx="140.6" cy="193.3" r="2.3" fill="#c8c8c8"/>
<circle cx="149.6" cy="198.5" r="2.3" fill="#c8c8c8"/>
<circle cx="147.1" cy="191.6" r="2.3" fill="#c8c8c8"/>
<circle cx="149.8" cy="194.8" r="2.3" fill="#c8c8c8"/>
<circle cx="146.9" cy="196.4" r="2.3" fill="#c8c8c8"/>
<circle cx="138.5" cy="190.1" r="2.3" fill="#c8c8c8"/>
<circle cx="139.7" cy="206.8" r="2.3" fill="#c8c8c8"/>
<circle cx="142.7" cy="186.3" r="2.3" fill="#c8c8c8"/>
<circle cx="138.9" cy="197.5" r="2.3" fill="#c8c8c8"/>
<circle cx="138.4" cy="203.4" r="2.3" fill="#c8c8c8"/>
<circle cx="146.8" cy="188.6" r="2.3" fill="#c8c8c8"/>
<circle cx="140.8" cy="188.8" r="2.3" fill="#c8c8c8"/>
<circle cx="140.9" cy="199.8" r="2.3" fill="#c8c8c8"/>
<circle cx="143.5" cy="196.4" r="2.3" fill="#c8c8c8"/>
<circle cx="142.0" cy="185.7" r="2.3" fill="#c8c8c8"/>
<circle cx="149.8" cy="187.1" r="2.3" fill="#c8c8c8"/>
<circle cx="142.8" cy="187.4" r="2.3" fill="#c8c8c8"/>
<circle cx="145.8" cy="196.3" r="2.3" fill="#c8c8c8"/>
<circle cx="146.3" cy="191.8" r="2.3" fill="#c8c8c8"/>
<circle cx="148.4" cy="174.1" r="2.3" fill="#c8c8c8"/>
<circle cx="143.6" cy="179.4" r="2.3" fill="#c8c8c8"/>
<circle cx="142.7" cy="193.6" r="2.3" fill="#c8c8c8"/>
<circle cx="147.4" cy="182.1" r="2.3" fill="#c8c8c8"/>
<circle cx="140.6" cy="185.9" r="2.3" fill="#c8c8c8"/>
<circle cx="144.6" cy="193.4" r="2.3" fill="#c8c8c8"/>
<circle cx="140.0" cy="190.7" r="2.3" fill="#c8c8c8"/>
<circle cx="143.6" cy="194.7" r="2.3" fill="#c8c8c8"/>
<circle cx="141.7" cy="168.0" r="2.3" fill="#c8c8c8"/>
<circle cx="146.2" cy="197.8" r="2.3" fill="#c8c8c8"/>
<circle cx="148.4" cy="191.4" r="2.3" fill="#c8c8c8"/>
<circle cx="138.9" cy="197.0" r="2.3" fill="#c8c8c8"/>
<circle cx="146.3" cy="184.6" r="2.3" fill="#c8c8c8"/>
<circle cx="138.2" cy="194.2" r="2.3" fill="#c8c8c8"/>
<circle cx="140.2" cy="188.3" r="2.3" fill="#c8c8c8"/>
<circle cx="149.1" cy="197.5" r="2.3" fill="#c8c8c8"/>
<circle cx="146.6" cy="188.1" r="2.3" fill="#c8c8c8"/>
<circle cx="139.8" cy="197.0" r="2.3" fill="#c8c8c8"/>
<circle cx="149.2" cy="179.8" r="2.3" fill="#c8c8c8"/>
<circle cx="146.7" cy="200.2" r="2.3" fill="#c8c8c8"/>
<circle cx="148.9" cy="196.4" r="2.3" fill="#c8c8c8"/>
<circle cx="142.6" cy="190.0" r="2.3" fill="#c8c8c8"/>
<circle cx="139.0" cy="194.6" r="2.3" fill="#c8c8c8"/>
<circle cx="147.2" cy="183.9" r="2.3" fill="#c8c8c8"/>
<circle cx="156.2" cy="194.5" r="2.3" fill="#c8c8c8"/>
<circle cx="152.9" cy="189.7" r="2.3" fill="#c8c8c8"/>
<circle cx="150.5" cy="193.3" r="2.3" fill="#c8c8c8"/>
<circle cx="150.4" cy="195.7" r="2.3" fill="#c8c8c8"/>
<circle cx="153.7" cy="178.1" r="2.3" fill="#c8c8c8"/>
<circle cx="151.6" cy="191.6" r="2.3" fill="#c8c8c8"/>
<circle cx="158.5" cy="186.2" r="2.3" fill="#c8c8c8"/>
<circle cx="158.0" cy="199.8" r="2.3" fill="#c8c8c8"/>
<circle cx="151.8" cy="188.8" r="2.3" fill="#c8c8c8"/>
<circle cx="158.6" cy="193.2" r="2.3" fill="#c8c8c8"/>
<circle cx="154.9" cy="174.9" r="2.3" fill="#c8c8c8"/>
<circle cx="152.7" cy="197.5" r="2.3" fill="#c8c8c8"/>
<circle cx="153.5" cy="183.9" r="2.3" fill="#c8c8c8"/>
<circle cx="150.5" cy="191.6" r="2.3" fill="#c8c8c8"/>
<circle cx="150.3" cy="179.9" r="2.3" fill="#c8c8c8"/>
<circle cx="159.7" cy="179.4" r="2.3" fill="#c8c8c8"/>
<circle cx="161.7" cy="183.5" r="2.3" fill="#c8c8c8"/>
<circle cx="161.0" cy="198.4" r="2.3" fill="#c8c8c8"/>
<circle cx="164.6" cy="178.6" r="2.3" fill="#c8c8c8"/>
<circle cx="173.5" cy="172.0" r="2.3" fill="#c8c8c8"/>
<circle cx="172.4" cy="184.1" r="2.3" fill="#c8c8c8"/>
<circle cx="163.1" cy="194.3" r="2.3" fill="#c8c8c8"/>
<circle cx="167.1" cy="180.8" r="2.3" fill="#c8c8c8"/>
<circle cx="166.6" cy="184.8" r="2.3" fill="#c8c8c8"/>
<circle cx="165.9" cy="176.5" r="2.3" fill="#c8c8c8"/>
<circle cx="163.9" cy="183.1" r="2.3" fill="#c8c8c8"/>
<circle cx="166.8" cy="178.2" r="2.3" fill="#c8c8c8"/>
<circle cx="170.0" cy="183.7" r="2.3" fill="#c8c8c8"/>
<circle cx="164.9" cy="189.1" r="2.3" fill="#c8c8c8"/>
<circle cx="177.8" cy="183.0" r="2.3" fill="#c8c8c8"/>
<circle cx="175.4" cy="171.9" r="2.3" fill="#c8c8c8"/>
<circle cx="179.0" cy="175.4" r="2.3" fill="#c8c8c8"/>
<circle cx="180.3" cy="185.9" r="2.3" fill="#c8c8c8"/>
<circle cx="177.3" cy="180.9" r="2.3" fill="#c8c8c8"/>
<circle cx="174.6" cy="178.3" r="2.3" fill="#c8c8c8"/>
<circle cx="178.5" cy="181.1" r="2.3" fill="#c8c8c8"/>
<circle cx="75.6" cy="66.5" r="2.3" fill="#c8c8c8"/>
<circle cx="72.9" cy="69.1" r="2.3" fill="#c8c8c8"/>
<circle cx="73.8" cy="76.2" r="2.3" fill="#c8c8c8"/>
<circle cx="77.4" cy="81.5" r="2.3" fill="#c8c8c8"/>
<circle cx="81.8" cy="82.4" r="2.3" fill="#c8c8c8"/>
<circle cx="72.9" cy="84.1" r="2.3" fill="#c8c8c8"/>
<circle cx="72.0" cy="98.2" r="2.3" fill="#c8c8c8"/>
<circle cx="76.5" cy="96.5" r="2.3" fill="#c8c8c8"/>
<circle cx="77.4" cy="99.1" r="2.3" fill="#c8c8c8"/>
<circle cx="82.6" cy="96.8" r="2.3" fill="#c8c8c8"/>
<circle cx="73.8" cy="105.3" r="2.3" fill="#c8c8c8"/>
<circle cx="84.4" cy="105.3" r="2.3" fill="#c8c8c8"/>
<circle cx="83.5" cy="108.8" r="2.3" fill="#c8c8c8"/>
<circle cx="86.2" cy="107.9" r="2.3" fill="#c8c8c8"/>
<circle cx="72.0" cy="114.1" r="2.3" fill="#c8c8c8"/>
<circle cx="75.6" cy="115.9" r="2.3" fill="#c8c8c8"/>
<circle cx="80.0" cy="116.8" r="2.3" fill="#c8c8c8"/>
<circle cx="83.5" cy="115.9" r="2.3" fill="#c8c8c8"/>
<circle cx="88.8" cy="117.6" r="2.3" fill="#c8c8c8"/>
<circle cx="73.8" cy="121.2" r="2.3" fill="#c8c8c8"/>
<circle cx="79.1" cy="121.2" r="2.3" fill="#c8c8c8"/>
<circle cx="92.4" cy="126.1" r="2.3" fill="#c8c8c8"/>
<circle cx="96.8" cy="126.8" r="2.3" fill="#c8c8c8"/>
<circle cx="73.8" cy="126.5" r="2.3" fill="#c8c8c8"/>
<circle cx="89.0" cy="118.1" r="2.3" fill="#c8c8c8"/>
<circle cx="92.4" cy="125.7" r="2.3" fill="#c8c8c8"/>
<circle cx="96.9" cy="126.9" r="2.3" fill="#c8c8c8"/>
<circle cx="85.7" cy="133.0" r="2.3" fill="#c8c8c8"/>
<circle cx="94.1" cy="138.7" r="2.3" fill="#c8c8c8"/>
<circle cx="95.8" cy="146.0" r="2.3" fill="#c8c8c8"/>
<circle cx="103.1" cy="146.5" r="2.3" fill="#c8c8c8"/>
<circle cx="111.0" cy="155.5" r="2.3" fill="#c8c8c8"/>
<circle cx="128.9" cy="158.3" r="2.3" fill="#c8c8c8"/>
<circle cx="134.5" cy="168.4" r="2.3" fill="#c8c8c8"/>
<circle cx="77.2" cy="182.4" r="2.3" fill="#c8c8c8"/>
<circle cx="69.4" cy="198.7" r="2.3" fill="#c8c8c8"/>
<circle cx="96.9" cy="214.4" r="2.3" fill="#c8c8c8"/>
<circle cx="98.6" cy="197.5" r="2.3" fill="#c8c8c8"/>
<circle cx="98.0" cy="189.7" r="2.3" fill="#c8c8c8"/>
<circle cx="107.6" cy="210.4" r="2.3" fill="#c8c8c8"/>
<circle cx="110.4" cy="214.4" r="2.3" fill="#c8c8c8"/>
<circle cx="115.4" cy="216.1" r="2.3" fill="#c8c8c8"/>
<circle cx="121.0" cy="225.1" r="2.3" fill="#c8c8c8"/>
<circle cx="123.9" cy="222.8" r="2.3" fill="#c8c8c8"/>
<circle cx="127.8" cy="219.4" r="2.3" fill="#c8c8c8"/>
<circle cx="132.9" cy="221.1" r="2.3" fill="#c8c8c8"/>
<circle cx="126.7" cy="203.7" r="2.3" fill="#c8c8c8"/>
<circle cx="117.7" cy="211.0" r="2.3" fill="#c8c8c8"/>
<circle cx="105.9" cy="203.7" r="2.3" fill="#c8c8c8"/>
<circle cx="107.6" cy="207.6" r="2.3" fill="#c8c8c8"/>
<circle cx="164.5" cy="164.9" r="2.3" fill="#c8c8c8"/>
<circle cx="169.7" cy="165.7" r="2.3" fill="#c8c8c8"/>
<circle cx="175.0" cy="165.7" r="2.3" fill="#c8c8c8"/>
<circle cx="147.7" cy="168.0" r="2.3" fill="#c8c8c8"/>
<circle cx="153.3" cy="168.6" r="2.3" fill="#c8c8c8"/>
<circle cx="158.9" cy="169.7" r="2.3" fill="#c8c8c8"/>
<circle cx="177.4" cy="183.3" r="2.3" fill="#c8c8c8"/>
<circle cx="167.7" cy="193.8" r="2.3" fill="#c8c8c8"/>
<circle cx="158.9" cy="204.2" r="2.3" fill="#c8c8c8"/>
<circle cx="150.0" cy="205.0" r="2.3" fill="#c8c8c8"/>
<circle cx="164.5" cy="211.4" r="2.3" fill="#c8c8c8"/>
<circle cx="150.0" cy="215.4" r="2.3" fill="#c8c8c8"/>
<circle cx="156.5" cy="217.0" r="2.3" fill="#c8c8c8"/>
<circle cx="157.3" cy="222.7" r="2.3" fill="#c8c8c8"/>
<circle cx="136.4" cy="225.0" r="2.3" fill="#c8c8c8"/>
<circle cx="132.4" cy="220.3" r="2.3" fill="#c8c8c8"/>
<circle cx="129.2" cy="158.5" r="2.3" fill="#c8c8c8"/>
<line x1="101.00" y1="46.60" x2="101.00" y2="256.30" stroke="#0d0d0d" stroke-width="2.0" stroke-dasharray="3.3 2.35" stroke-linecap="butt"/>
<line x1="69.50" y1="172.40" x2="192.50" y2="172.40" stroke="#1e1e1e" stroke-width="1.6" stroke-dasharray="3.3 2.35" stroke-linecap="butt"/>
<circle cx="74.5" cy="143.8" r="3.3" fill="#f2f2f2" fill-opacity="0.75" stroke="#666" stroke-width="1.15"/>
<line x1="74.50" y1="140.40" x2="74.50" y2="147.20" stroke="#666" stroke-width="1.0" stroke-linecap="butt"/>
<line x1="72.30" y1="140.60" x2="76.70" y2="140.60" stroke="#666" stroke-width="1.0" stroke-linecap="butt"/>
<line x1="72.30" y1="147.00" x2="76.70" y2="147.00" stroke="#666" stroke-width="1.0" stroke-linecap="butt"/>
<circle cx="84.4" cy="150.8" r="3.3" fill="#f2f2f2" fill-opacity="0.75" stroke="#666" stroke-width="1.15"/>
<line x1="84.42" y1="147.40" x2="84.42" y2="154.20" stroke="#666" stroke-width="1.0" stroke-linecap="butt"/>
<line x1="82.22" y1="147.60" x2="86.62" y2="147.60" stroke="#666" stroke-width="1.0" stroke-linecap="butt"/>
<line x1="82.22" y1="154.00" x2="86.62" y2="154.00" stroke="#666" stroke-width="1.0" stroke-linecap="butt"/>
<circle cx="94.3" cy="168.3" r="3.3" fill="#f2f2f2" fill-opacity="0.75" stroke="#666" stroke-width="1.15"/>
<line x1="94.34" y1="164.90" x2="94.34" y2="171.70" stroke="#666" stroke-width="1.0" stroke-linecap="butt"/>
<line x1="92.14" y1="165.10" x2="96.54" y2="165.10" stroke="#666" stroke-width="1.0" stroke-linecap="butt"/>
<line x1="92.14" y1="171.50" x2="96.54" y2="171.50" stroke="#666" stroke-width="1.0" stroke-linecap="butt"/>
<circle cx="104.3" cy="179.0" r="3.3" fill="#f2f2f2" fill-opacity="0.75" stroke="#666" stroke-width="1.15"/>
<line x1="104.26" y1="175.60" x2="104.26" y2="182.40" stroke="#666" stroke-width="1.0" stroke-linecap="butt"/>
<line x1="102.06" y1="175.80" x2="106.46" y2="175.80" stroke="#666" stroke-width="1.0" stroke-linecap="butt"/>
<line x1="102.06" y1="182.20" x2="106.46" y2="182.20" stroke="#666" stroke-width="1.0" stroke-linecap="butt"/>
<circle cx="114.2" cy="183.0" r="3.3" fill="#f2f2f2" fill-opacity="0.75" stroke="#666" stroke-width="1.15"/>
<line x1="114.18" y1="179.60" x2="114.18" y2="186.40" stroke="#666" stroke-width="1.0" stroke-linecap="butt"/>
<line x1="111.98" y1="179.80" x2="116.38" y2="179.80" stroke="#666" stroke-width="1.0" stroke-linecap="butt"/>
<line x1="111.98" y1="186.20" x2="116.38" y2="186.20" stroke="#666" stroke-width="1.0" stroke-linecap="butt"/>
<circle cx="124.1" cy="187.6" r="3.3" fill="#f2f2f2" fill-opacity="0.75" stroke="#666" stroke-width="1.15"/>
<line x1="124.10" y1="184.20" x2="124.10" y2="191.00" stroke="#666" stroke-width="1.0" stroke-linecap="butt"/>
<line x1="121.90" y1="184.40" x2="126.30" y2="184.40" stroke="#666" stroke-width="1.0" stroke-linecap="butt"/>
<line x1="121.90" y1="190.80" x2="126.30" y2="190.80" stroke="#666" stroke-width="1.0" stroke-linecap="butt"/>
<circle cx="134.0" cy="190.4" r="3.3" fill="#f2f2f2" fill-opacity="0.75" stroke="#666" stroke-width="1.15"/>
<line x1="134.02" y1="187.00" x2="134.02" y2="193.80" stroke="#666" stroke-width="1.0" stroke-linecap="butt"/>
<line x1="131.82" y1="187.20" x2="136.22" y2="187.20" stroke="#666" stroke-width="1.0" stroke-linecap="butt"/>
<line x1="131.82" y1="193.60" x2="136.22" y2="193.60" stroke="#666" stroke-width="1.0" stroke-linecap="butt"/>
<circle cx="143.9" cy="187.6" r="3.3" fill="#f2f2f2" fill-opacity="0.75" stroke="#666" stroke-width="1.15"/>
<line x1="143.94" y1="184.20" x2="143.94" y2="191.00" stroke="#666" stroke-width="1.0" stroke-linecap="butt"/>
<line x1="141.74" y1="184.40" x2="146.14" y2="184.40" stroke="#666" stroke-width="1.0" stroke-linecap="butt"/>
<line x1="141.74" y1="190.80" x2="146.14" y2="190.80" stroke="#666" stroke-width="1.0" stroke-linecap="butt"/>
<circle cx="153.9" cy="194.4" r="3.3" fill="#f2f2f2" fill-opacity="0.75" stroke="#666" stroke-width="1.15"/>
<line x1="153.86" y1="191.00" x2="153.86" y2="197.80" stroke="#666" stroke-width="1.0" stroke-linecap="butt"/>
<line x1="151.66" y1="191.20" x2="156.06" y2="191.20" stroke="#666" stroke-width="1.0" stroke-linecap="butt"/>
<line x1="151.66" y1="197.60" x2="156.06" y2="197.60" stroke="#666" stroke-width="1.0" stroke-linecap="butt"/>
<circle cx="163.8" cy="187.6" r="3.3" fill="#f2f2f2" fill-opacity="0.75" stroke="#666" stroke-width="1.15"/>
<line x1="163.78" y1="184.20" x2="163.78" y2="191.00" stroke="#666" stroke-width="1.0" stroke-linecap="butt"/>
<line x1="161.58" y1="184.40" x2="165.98" y2="184.40" stroke="#666" stroke-width="1.0" stroke-linecap="butt"/>
<line x1="161.58" y1="190.80" x2="165.98" y2="190.80" stroke="#666" stroke-width="1.0" stroke-linecap="butt"/>
<circle cx="173.7" cy="175.4" r="3.3" fill="#f2f2f2" fill-opacity="0.75" stroke="#666" stroke-width="1.15"/>
<line x1="173.70" y1="172.00" x2="173.70" y2="178.80" stroke="#666" stroke-width="1.0" stroke-linecap="butt"/>
<line x1="171.50" y1="172.20" x2="175.90" y2="172.20" stroke="#666" stroke-width="1.0" stroke-linecap="butt"/>
<line x1="171.50" y1="178.60" x2="175.90" y2="178.60" stroke="#666" stroke-width="1.0" stroke-linecap="butt"/>
<circle cx="183.6" cy="178.1" r="3.3" fill="#f2f2f2" fill-opacity="0.75" stroke="#666" stroke-width="1.15"/>
<line x1="183.62" y1="174.70" x2="183.62" y2="181.50" stroke="#666" stroke-width="1.0" stroke-linecap="butt"/>
<line x1="181.42" y1="174.90" x2="185.82" y2="174.90" stroke="#666" stroke-width="1.0" stroke-linecap="butt"/>
<line x1="181.42" y1="181.30" x2="185.82" y2="181.30" stroke="#666" stroke-width="1.0" stroke-linecap="butt"/>
<path d="M69.5,142.5 L69.9,142.6 L70.4,142.6 L71.0,142.7 L71.7,142.8 L72.4,142.9 L73.1,143.0 L73.8,143.1 L74.5,143.3 L75.1,143.5 L75.8,143.7 L76.4,143.9 L77.0,144.2 L77.6,144.5 L78.2,144.8 L78.9,145.1 L79.5,145.5 L80.1,145.9 L80.8,146.3 L81.4,146.8 L82.0,147.3 L82.6,147.8 L83.2,148.4 L83.9,148.9 L84.5,149.5 L85.1,150.1 L85.8,150.7 L86.4,151.4 L87.0,152.1 L87.6,152.8 L88.2,153.5 L88.9,154.2 L89.5,155.0 L90.1,155.8 L90.7,156.6 L91.3,157.4 L91.9,158.2 L92.5,159.1 L93.2,160.0 L93.8,161.0 L94.5,162.0 L95.2,163.2 L96.0,164.4 L96.8,165.8 L97.6,167.2 L98.5,168.6 L99.3,169.9 L100.1,171.2 L100.8,172.3 L101.5,173.3 L102.1,174.2 L102.7,175.1 L103.3,175.9 L103.9,176.7 L104.5,177.4 L105.2,178.2 L106.0,179.0 L106.9,179.8 L107.8,180.7 L108.7,181.6 L109.7,182.4 L110.7,183.3 L111.8,184.1 L112.9,184.8 L114.0,185.5 L115.2,186.1 L116.4,186.7 L117.6,187.3 L118.9,187.8 L120.2,188.3 L121.5,188.7 L122.7,189.1 L124.0,189.5 L125.2,189.8 L126.5,190.1 L127.8,190.3 L129.0,190.4 L130.2,190.6 L131.5,190.7 L132.8,190.8 L134.0,190.8 L135.2,190.8 L136.5,190.8 L137.8,190.7 L139.0,190.6 L140.2,190.5 L141.5,190.4 L142.8,190.2 L144.0,190.0 L145.2,189.8 L146.5,189.5 L147.8,189.2 L149.0,188.9 L150.2,188.6 L151.5,188.2 L152.8,187.9 L154.0,187.5 L155.2,187.1 L156.5,186.7 L157.8,186.3 L159.0,185.8 L160.2,185.4 L161.5,184.9 L162.8,184.4 L164.0,184.0 L165.3,183.6 L166.5,183.1 L167.8,182.7 L169.0,182.2 L170.3,181.8 L171.5,181.3 L172.8,180.9 L174.0,180.5 L175.3,180.1 L176.6,179.6 L178.0,179.2 L179.4,178.8 L180.7,178.4 L181.8,178.0 L182.8,177.7 L183.5,177.5" stroke="#3c3c3c" stroke-width="2.4" fill="none" stroke-linejoin="round"/>
<path d="M72.5,46.1 H69.5 V256.3 H194.7" stroke="#3b3b3b" stroke-width="1.8" fill="none"/>
<line x1="69.50" y1="46.70" x2="72.50" y2="46.70" stroke="#3b3b3b" stroke-width="1.5" stroke-linecap="butt"/>
<line x1="69.50" y1="88.60" x2="72.50" y2="88.60" stroke="#3b3b3b" stroke-width="1.5" stroke-linecap="butt"/>
<line x1="69.50" y1="130.50" x2="72.50" y2="130.50" stroke="#3b3b3b" stroke-width="1.5" stroke-linecap="butt"/>
<line x1="69.50" y1="172.40" x2="72.50" y2="172.40" stroke="#3b3b3b" stroke-width="1.5" stroke-linecap="butt"/>
<line x1="69.50" y1="214.30" x2="72.50" y2="214.30" stroke="#3b3b3b" stroke-width="1.5" stroke-linecap="butt"/>
<line x1="69.50" y1="256.20" x2="72.50" y2="256.20" stroke="#3b3b3b" stroke-width="1.5" stroke-linecap="butt"/>
<line x1="119.10" y1="256.30" x2="119.10" y2="253.30" stroke="#3b3b3b" stroke-width="1.5" stroke-linecap="butt"/>
<line x1="168.70" y1="256.30" x2="168.70" y2="253.30" stroke="#3b3b3b" stroke-width="1.5" stroke-linecap="butt"/>
<circle cx="76.8" cy="467.6" r="2.3" fill="#c8c8c8"/>
<circle cx="72.7" cy="480.1" r="2.3" fill="#c8c8c8"/>
<circle cx="69.8" cy="463.5" r="2.3" fill="#c8c8c8"/>
<circle cx="76.6" cy="498.7" r="2.3" fill="#c8c8c8"/>
<circle cx="72.8" cy="474.2" r="2.3" fill="#c8c8c8"/>
<circle cx="75.4" cy="471.3" r="2.3" fill="#c8c8c8"/>
<circle cx="77.2" cy="488.9" r="2.3" fill="#c8c8c8"/>
<circle cx="76.7" cy="474.8" r="2.3" fill="#c8c8c8"/>
<circle cx="81.3" cy="480.3" r="2.3" fill="#c8c8c8"/>
<circle cx="77.3" cy="461.3" r="2.3" fill="#c8c8c8"/>
<circle cx="74.6" cy="469.7" r="2.3" fill="#c8c8c8"/>
<circle cx="79.9" cy="482.9" r="2.3" fill="#c8c8c8"/>
<circle cx="80.5" cy="458.6" r="2.3" fill="#c8c8c8"/>
<circle cx="70.0" cy="495.8" r="2.3" fill="#c8c8c8"/>
<circle cx="71.2" cy="467.7" r="2.3" fill="#c8c8c8"/>
<circle cx="74.0" cy="477.5" r="2.3" fill="#c8c8c8"/>
<circle cx="81.7" cy="482.6" r="2.3" fill="#c8c8c8"/>
<circle cx="72.4" cy="484.3" r="2.3" fill="#c8c8c8"/>
<circle cx="78.0" cy="478.1" r="2.3" fill="#c8c8c8"/>
<circle cx="76.3" cy="478.5" r="2.3" fill="#c8c8c8"/>
<circle cx="74.4" cy="478.9" r="2.3" fill="#c8c8c8"/>
<circle cx="77.6" cy="492.0" r="2.3" fill="#c8c8c8"/>
<circle cx="76.4" cy="467.1" r="2.3" fill="#c8c8c8"/>
<circle cx="79.9" cy="467.2" r="2.3" fill="#c8c8c8"/>
<circle cx="81.6" cy="472.5" r="2.3" fill="#c8c8c8"/>
<circle cx="80.6" cy="487.6" r="2.3" fill="#c8c8c8"/>
<circle cx="73.4" cy="474.1" r="2.3" fill="#c8c8c8"/>
<circle cx="78.1" cy="459.9" r="2.3" fill="#c8c8c8"/>
<circle cx="81.5" cy="481.2" r="2.3" fill="#c8c8c8"/>
<circle cx="77.3" cy="471.7" r="2.3" fill="#c8c8c8"/>
<circle cx="75.6" cy="467.4" r="2.3" fill="#c8c8c8"/>
<circle cx="73.1" cy="473.5" r="2.3" fill="#c8c8c8"/>
<circle cx="78.9" cy="469.4" r="2.3" fill="#c8c8c8"/>
<circle cx="72.6" cy="476.1" r="2.3" fill="#c8c8c8"/>
<circle cx="73.6" cy="484.3" r="2.3" fill="#c8c8c8"/>
<circle cx="71.1" cy="491.0" r="2.3" fill="#c8c8c8"/>
<circle cx="70.3" cy="483.1" r="2.3" fill="#c8c8c8"/>
<circle cx="78.3" cy="480.3" r="2.3" fill="#c8c8c8"/>
<circle cx="70.9" cy="458.3" r="2.3" fill="#c8c8c8"/>
<circle cx="75.5" cy="484.2" r="2.3" fill="#c8c8c8"/>
<circle cx="71.5" cy="494.2" r="2.3" fill="#c8c8c8"/>
<circle cx="70.2" cy="460.0" r="2.3" fill="#c8c8c8"/>
<circle cx="72.7" cy="456.6" r="2.3" fill="#c8c8c8"/>
<circle cx="74.4" cy="477.0" r="2.3" fill="#c8c8c8"/>
<circle cx="78.4" cy="477.8" r="2.3" fill="#c8c8c8"/>
<circle cx="73.6" cy="497.0" r="2.3" fill="#c8c8c8"/>
<circle cx="73.7" cy="479.3" r="2.3" fill="#c8c8c8"/>
<circle cx="79.9" cy="455.0" r="2.3" fill="#c8c8c8"/>
<circle cx="76.6" cy="461.5" r="2.3" fill="#c8c8c8"/>
<circle cx="77.3" cy="487.0" r="2.3" fill="#c8c8c8"/>
<circle cx="79.9" cy="480.0" r="2.3" fill="#c8c8c8"/>
<circle cx="74.2" cy="472.1" r="2.3" fill="#c8c8c8"/>
<circle cx="77.9" cy="478.9" r="2.3" fill="#c8c8c8"/>
<circle cx="69.7" cy="485.6" r="2.3" fill="#c8c8c8"/>
<circle cx="76.8" cy="507.7" r="2.3" fill="#c8c8c8"/>
<circle cx="71.2" cy="466.5" r="2.3" fill="#c8c8c8"/>
<circle cx="78.1" cy="463.2" r="2.3" fill="#c8c8c8"/>
<circle cx="74.5" cy="486.2" r="2.3" fill="#c8c8c8"/>
<circle cx="81.2" cy="481.8" r="2.3" fill="#c8c8c8"/>
<circle cx="78.4" cy="477.7" r="2.3" fill="#c8c8c8"/>
<circle cx="71.0" cy="487.5" r="2.3" fill="#c8c8c8"/>
<circle cx="78.6" cy="480.6" r="2.3" fill="#c8c8c8"/>
<circle cx="81.9" cy="485.8" r="2.3" fill="#c8c8c8"/>
<circle cx="69.8" cy="485.4" r="2.3" fill="#c8c8c8"/>
<circle cx="76.3" cy="466.5" r="2.3" fill="#c8c8c8"/>
<circle cx="73.4" cy="479.2" r="2.3" fill="#c8c8c8"/>
<circle cx="79.5" cy="483.2" r="2.3" fill="#c8c8c8"/>
<circle cx="74.4" cy="469.7" r="2.3" fill="#c8c8c8"/>
<circle cx="77.2" cy="481.3" r="2.3" fill="#c8c8c8"/>
<circle cx="74.4" cy="450.0" r="2.3" fill="#c8c8c8"/>
<circle cx="78.2" cy="457.4" r="2.3" fill="#c8c8c8"/>
<circle cx="71.3" cy="471.9" r="2.3" fill="#c8c8c8"/>
<circle cx="71.7" cy="499.8" r="2.3" fill="#c8c8c8"/>
<circle cx="72.6" cy="495.4" r="2.3" fill="#c8c8c8"/>
<circle cx="75.6" cy="485.7" r="2.3" fill="#c8c8c8"/>
<circle cx="69.7" cy="485.3" r="2.3" fill="#c8c8c8"/>
<circle cx="76.6" cy="488.4" r="2.3" fill="#c8c8c8"/>
<circle cx="72.9" cy="491.2" r="2.3" fill="#c8c8c8"/>
<circle cx="72.3" cy="466.6" r="2.3" fill="#c8c8c8"/>
<circle cx="72.7" cy="479.3" r="2.3" fill="#c8c8c8"/>
<circle cx="70.1" cy="501.3" r="2.3" fill="#c8c8c8"/>
<circle cx="73.4" cy="488.0" r="2.3" fill="#c8c8c8"/>
<circle cx="70.5" cy="483.7" r="2.3" fill="#c8c8c8"/>
<circle cx="82.0" cy="490.6" r="2.3" fill="#c8c8c8"/>
<circle cx="72.0" cy="487.3" r="2.3" fill="#c8c8c8"/>
<circle cx="74.7" cy="467.8" r="2.3" fill="#c8c8c8"/>
<circle cx="79.6" cy="474.7" r="2.3" fill="#c8c8c8"/>
<circle cx="76.4" cy="480.5" r="2.3" fill="#c8c8c8"/>
<circle cx="77.7" cy="471.1" r="2.3" fill="#c8c8c8"/>
<circle cx="81.2" cy="471.2" r="2.3" fill="#c8c8c8"/>
<circle cx="80.3" cy="491.0" r="2.3" fill="#c8c8c8"/>
<circle cx="79.9" cy="477.5" r="2.3" fill="#c8c8c8"/>
<circle cx="78.6" cy="479.3" r="2.3" fill="#c8c8c8"/>
<circle cx="71.6" cy="480.5" r="2.3" fill="#c8c8c8"/>
<circle cx="71.0" cy="488.1" r="2.3" fill="#c8c8c8"/>
<circle cx="78.9" cy="483.1" r="2.3" fill="#c8c8c8"/>
<circle cx="73.4" cy="476.3" r="2.3" fill="#c8c8c8"/>
<circle cx="72.1" cy="477.8" r="2.3" fill="#c8c8c8"/>
<circle cx="81.5" cy="492.7" r="2.3" fill="#c8c8c8"/>
<circle cx="79.6" cy="479.0" r="2.3" fill="#c8c8c8"/>
<circle cx="79.4" cy="476.9" r="2.3" fill="#c8c8c8"/>
<circle cx="79.5" cy="465.9" r="2.3" fill="#c8c8c8"/>
<circle cx="79.8" cy="481.9" r="2.3" fill="#c8c8c8"/>
<circle cx="72.1" cy="425.0" r="2.3" fill="#c8c8c8"/>
<circle cx="93.7" cy="431.1" r="2.3" fill="#c8c8c8"/>
<circle cx="75.9" cy="446.3" r="2.3" fill="#c8c8c8"/>
<circle cx="92.7" cy="449.1" r="2.3" fill="#c8c8c8"/>
<circle cx="75.3" cy="441.4" r="2.3" fill="#c8c8c8"/>
<circle cx="79.4" cy="433.0" r="2.3" fill="#c8c8c8"/>
<circle cx="90.2" cy="447.5" r="2.3" fill="#c8c8c8"/>
<circle cx="78.8" cy="435.8" r="2.3" fill="#c8c8c8"/>
<circle cx="76.6" cy="435.0" r="2.3" fill="#c8c8c8"/>
<circle cx="92.6" cy="438.6" r="2.3" fill="#c8c8c8"/>
<circle cx="78.0" cy="442.8" r="2.3" fill="#c8c8c8"/>
<circle cx="88.4" cy="442.8" r="2.3" fill="#c8c8c8"/>
<circle cx="83.4" cy="451.2" r="2.3" fill="#c8c8c8"/>
<circle cx="86.8" cy="441.5" r="2.3" fill="#c8c8c8"/>
<circle cx="73.1" cy="443.0" r="2.3" fill="#c8c8c8"/>
<circle cx="78.4" cy="439.1" r="2.3" fill="#c8c8c8"/>
<circle cx="82.3" cy="440.4" r="2.3" fill="#c8c8c8"/>
<circle cx="79.8" cy="436.2" r="2.3" fill="#c8c8c8"/>
<circle cx="93.8" cy="447.8" r="2.3" fill="#c8c8c8"/>
<circle cx="74.7" cy="444.5" r="2.3" fill="#c8c8c8"/>
<circle cx="88.7" cy="435.8" r="2.3" fill="#c8c8c8"/>
<circle cx="72.3" cy="447.4" r="2.3" fill="#c8c8c8"/>
<circle cx="94.0" cy="439.4" r="2.3" fill="#c8c8c8"/>
<circle cx="75.1" cy="430.8" r="2.3" fill="#c8c8c8"/>
<circle cx="74.0" cy="446.0" r="2.3" fill="#c8c8c8"/>
<circle cx="76.5" cy="432.5" r="2.3" fill="#c8c8c8"/>
<circle cx="77.7" cy="425.0" r="2.3" fill="#c8c8c8"/>
<circle cx="84.4" cy="462.3" r="2.3" fill="#c8c8c8"/>
<circle cx="83.9" cy="508.9" r="2.3" fill="#c8c8c8"/>
<circle cx="90.3" cy="471.6" r="2.3" fill="#c8c8c8"/>
<circle cx="84.8" cy="494.0" r="2.3" fill="#c8c8c8"/>
<circle cx="90.0" cy="499.5" r="2.3" fill="#c8c8c8"/>
<circle cx="90.2" cy="468.9" r="2.3" fill="#c8c8c8"/>
<circle cx="88.6" cy="478.1" r="2.3" fill="#c8c8c8"/>
<circle cx="92.9" cy="480.8" r="2.3" fill="#c8c8c8"/>
<circle cx="91.0" cy="467.4" r="2.3" fill="#c8c8c8"/>
<circle cx="87.5" cy="487.7" r="2.3" fill="#c8c8c8"/>
<circle cx="87.0" cy="484.9" r="2.3" fill="#c8c8c8"/>
<circle cx="89.4" cy="497.8" r="2.3" fill="#c8c8c8"/>
<circle cx="88.7" cy="498.1" r="2.3" fill="#c8c8c8"/>
<circle cx="87.8" cy="486.1" r="2.3" fill="#c8c8c8"/>
<circle cx="89.7" cy="461.9" r="2.3" fill="#c8c8c8"/>
<circle cx="84.0" cy="468.7" r="2.3" fill="#c8c8c8"/>
<circle cx="88.1" cy="501.0" r="2.3" fill="#c8c8c8"/>
<circle cx="86.1" cy="482.2" r="2.3" fill="#c8c8c8"/>
<circle cx="91.6" cy="494.1" r="2.3" fill="#c8c8c8"/>
<circle cx="93.3" cy="482.3" r="2.3" fill="#c8c8c8"/>
<circle cx="83.6" cy="495.8" r="2.3" fill="#c8c8c8"/>
<circle cx="85.0" cy="482.2" r="2.3" fill="#c8c8c8"/>
<circle cx="92.9" cy="467.7" r="2.3" fill="#c8c8c8"/>
<circle cx="92.8" cy="462.1" r="2.3" fill="#c8c8c8"/>
<circle cx="92.4" cy="455.0" r="2.3" fill="#c8c8c8"/>
<circle cx="82.8" cy="480.5" r="2.3" fill="#c8c8c8"/>
<circle cx="93.3" cy="481.0" r="2.3" fill="#c8c8c8"/>
<circle cx="92.5" cy="474.9" r="2.3" fill="#c8c8c8"/>
<circle cx="87.9" cy="461.5" r="2.3" fill="#c8c8c8"/>
<circle cx="84.5" cy="478.0" r="2.3" fill="#c8c8c8"/>
<circle cx="85.6" cy="480.3" r="2.3" fill="#c8c8c8"/>
<circle cx="89.2" cy="479.6" r="2.3" fill="#c8c8c8"/>
<circle cx="92.2" cy="474.8" r="2.3" fill="#c8c8c8"/>
<circle cx="92.4" cy="483.5" r="2.3" fill="#c8c8c8"/>
<circle cx="93.1" cy="484.8" r="2.3" fill="#c8c8c8"/>
<circle cx="93.8" cy="469.2" r="2.3" fill="#c8c8c8"/>
<circle cx="92.4" cy="489.1" r="2.3" fill="#c8c8c8"/>
<circle cx="83.3" cy="491.6" r="2.3" fill="#c8c8c8"/>
<circle cx="82.5" cy="470.5" r="2.3" fill="#c8c8c8"/>
<circle cx="92.8" cy="501.1" r="2.3" fill="#c8c8c8"/>
<circle cx="83.5" cy="487.5" r="2.3" fill="#c8c8c8"/>
<circle cx="93.0" cy="492.9" r="2.3" fill="#c8c8c8"/>
<circle cx="90.0" cy="486.5" r="2.3" fill="#c8c8c8"/>
<circle cx="94.8" cy="480.5" r="2.3" fill="#c8c8c8"/>
<circle cx="84.7" cy="467.5" r="2.3" fill="#c8c8c8"/>
<circle cx="91.5" cy="466.7" r="2.3" fill="#c8c8c8"/>
<circle cx="84.6" cy="477.3" r="2.3" fill="#c8c8c8"/>
<circle cx="82.2" cy="472.8" r="2.3" fill="#c8c8c8"/>
<circle cx="86.4" cy="476.8" r="2.3" fill="#c8c8c8"/>
<circle cx="85.6" cy="497.2" r="2.3" fill="#c8c8c8"/>
<circle cx="89.8" cy="480.6" r="2.3" fill="#c8c8c8"/>
<circle cx="83.7" cy="476.5" r="2.3" fill="#c8c8c8"/>
<circle cx="91.0" cy="477.3" r="2.3" fill="#c8c8c8"/>
<circle cx="83.5" cy="484.2" r="2.3" fill="#c8c8c8"/>
<circle cx="94.2" cy="475.0" r="2.3" fill="#c8c8c8"/>
<circle cx="84.6" cy="476.4" r="2.3" fill="#c8c8c8"/>
<circle cx="94.9" cy="476.6" r="2.3" fill="#c8c8c8"/>
<circle cx="86.7" cy="466.2" r="2.3" fill="#c8c8c8"/>
<circle cx="86.0" cy="477.8" r="2.3" fill="#c8c8c8"/>
<circle cx="90.2" cy="486.4" r="2.3" fill="#c8c8c8"/>
<circle cx="87.5" cy="487.8" r="2.3" fill="#c8c8c8"/>
<circle cx="87.9" cy="472.8" r="2.3" fill="#c8c8c8"/>
<circle cx="88.6" cy="492.5" r="2.3" fill="#c8c8c8"/>
<circle cx="91.1" cy="479.4" r="2.3" fill="#c8c8c8"/>
<circle cx="85.1" cy="475.1" r="2.3" fill="#c8c8c8"/>
<circle cx="93.3" cy="478.7" r="2.3" fill="#c8c8c8"/>
<circle cx="85.7" cy="493.1" r="2.3" fill="#c8c8c8"/>
<circle cx="87.9" cy="469.9" r="2.3" fill="#c8c8c8"/>
<circle cx="94.1" cy="469.2" r="2.3" fill="#c8c8c8"/>
<circle cx="89.8" cy="494.8" r="2.3" fill="#c8c8c8"/>
<circle cx="87.8" cy="493.5" r="2.3" fill="#c8c8c8"/>
<circle cx="85.7" cy="487.5" r="2.3" fill="#c8c8c8"/>
<circle cx="87.7" cy="491.8" r="2.3" fill="#c8c8c8"/>
<circle cx="91.0" cy="480.4" r="2.3" fill="#c8c8c8"/>
<circle cx="90.7" cy="483.4" r="2.3" fill="#c8c8c8"/>
<circle cx="83.7" cy="494.3" r="2.3" fill="#c8c8c8"/>
<circle cx="93.6" cy="482.9" r="2.3" fill="#c8c8c8"/>
<circle cx="86.4" cy="494.5" r="2.3" fill="#c8c8c8"/>
<circle cx="92.7" cy="491.7" r="2.3" fill="#c8c8c8"/>
<circle cx="89.1" cy="471.1" r="2.3" fill="#c8c8c8"/>
<circle cx="83.3" cy="486.8" r="2.3" fill="#c8c8c8"/>
<circle cx="86.7" cy="480.1" r="2.3" fill="#c8c8c8"/>
<circle cx="86.9" cy="480.2" r="2.3" fill="#c8c8c8"/>
<circle cx="86.5" cy="466.9" r="2.3" fill="#c8c8c8"/>
<circle cx="93.7" cy="485.3" r="2.3" fill="#c8c8c8"/>
<circle cx="90.2" cy="482.3" r="2.3" fill="#c8c8c8"/>
<circle cx="88.1" cy="475.1" r="2.3" fill="#c8c8c8"/>
<circle cx="86.1" cy="492.4" r="2.3" fill="#c8c8c8"/>
<circle cx="90.7" cy="460.0" r="2.3" fill="#c8c8c8"/>
<circle cx="94.7" cy="465.0" r="2.3" fill="#c8c8c8"/>
<circle cx="94.9" cy="466.7" r="2.3" fill="#c8c8c8"/>
<circle cx="90.4" cy="495.6" r="2.3" fill="#c8c8c8"/>
<circle cx="91.1" cy="487.1" r="2.3" fill="#c8c8c8"/>
<circle cx="88.0" cy="482.9" r="2.3" fill="#c8c8c8"/>
<circle cx="87.2" cy="478.7" r="2.3" fill="#c8c8c8"/>
<circle cx="94.9" cy="476.6" r="2.3" fill="#c8c8c8"/>
<circle cx="98.1" cy="490.8" r="2.3" fill="#c8c8c8"/>
<circle cx="100.9" cy="497.4" r="2.3" fill="#c8c8c8"/>
<circle cx="106.1" cy="498.4" r="2.3" fill="#c8c8c8"/>
<circle cx="104.7" cy="496.6" r="2.3" fill="#c8c8c8"/>
<circle cx="104.3" cy="493.7" r="2.3" fill="#c8c8c8"/>
<circle cx="107.2" cy="487.5" r="2.3" fill="#c8c8c8"/>
<circle cx="106.0" cy="494.7" r="2.3" fill="#c8c8c8"/>
<circle cx="102.0" cy="489.8" r="2.3" fill="#c8c8c8"/>
<circle cx="95.2" cy="507.0" r="2.3" fill="#c8c8c8"/>
<circle cx="108.4" cy="478.2" r="2.3" fill="#c8c8c8"/>
<circle cx="95.4" cy="487.8" r="2.3" fill="#c8c8c8"/>
<circle cx="103.0" cy="502.5" r="2.3" fill="#c8c8c8"/>
<circle cx="96.7" cy="495.8" r="2.3" fill="#c8c8c8"/>
<circle cx="102.6" cy="487.0" r="2.3" fill="#c8c8c8"/>
<circle cx="96.9" cy="489.9" r="2.3" fill="#c8c8c8"/>
<circle cx="96.3" cy="492.1" r="2.3" fill="#c8c8c8"/>
<circle cx="102.7" cy="490.0" r="2.3" fill="#c8c8c8"/>
<circle cx="98.7" cy="508.2" r="2.3" fill="#c8c8c8"/>
<circle cx="101.2" cy="499.6" r="2.3" fill="#c8c8c8"/>
<circle cx="101.8" cy="496.0" r="2.3" fill="#c8c8c8"/>
<circle cx="103.4" cy="478.0" r="2.3" fill="#c8c8c8"/>
<circle cx="96.6" cy="498.2" r="2.3" fill="#c8c8c8"/>
<circle cx="107.8" cy="506.7" r="2.3" fill="#c8c8c8"/>
<circle cx="102.9" cy="512.6" r="2.3" fill="#c8c8c8"/>
<circle cx="101.1" cy="481.1" r="2.3" fill="#c8c8c8"/>
<circle cx="109.5" cy="483.0" r="2.3" fill="#c8c8c8"/>
<circle cx="101.2" cy="498.9" r="2.3" fill="#c8c8c8"/>
<circle cx="107.3" cy="494.3" r="2.3" fill="#c8c8c8"/>
<circle cx="106.0" cy="492.8" r="2.3" fill="#c8c8c8"/>
<circle cx="103.0" cy="489.2" r="2.3" fill="#c8c8c8"/>
<circle cx="95.4" cy="499.5" r="2.3" fill="#c8c8c8"/>
<circle cx="109.5" cy="498.6" r="2.3" fill="#c8c8c8"/>
<circle cx="104.6" cy="495.5" r="2.3" fill="#c8c8c8"/>
<circle cx="101.2" cy="491.9" r="2.3" fill="#c8c8c8"/>
<circle cx="96.2" cy="493.7" r="2.3" fill="#c8c8c8"/>
<circle cx="108.8" cy="498.1" r="2.3" fill="#c8c8c8"/>
<circle cx="99.9" cy="481.6" r="2.3" fill="#c8c8c8"/>
<circle cx="108.3" cy="494.9" r="2.3" fill="#c8c8c8"/>
<circle cx="109.2" cy="484.9" r="2.3" fill="#c8c8c8"/>
<circle cx="108.6" cy="489.9" r="2.3" fill="#c8c8c8"/>
<circle cx="100.9" cy="489.7" r="2.3" fill="#c8c8c8"/>
<circle cx="98.9" cy="507.3" r="2.3" fill="#c8c8c8"/>
<circle cx="100.5" cy="485.3" r="2.3" fill="#c8c8c8"/>
<circle cx="100.4" cy="498.2" r="2.3" fill="#c8c8c8"/>
<circle cx="101.5" cy="491.4" r="2.3" fill="#c8c8c8"/>
<circle cx="107.5" cy="494.8" r="2.3" fill="#c8c8c8"/>
<circle cx="95.9" cy="483.5" r="2.3" fill="#c8c8c8"/>
<circle cx="101.0" cy="492.1" r="2.3" fill="#c8c8c8"/>
<circle cx="98.3" cy="500.7" r="2.3" fill="#c8c8c8"/>
<circle cx="99.7" cy="498.8" r="2.3" fill="#c8c8c8"/>
<circle cx="102.3" cy="495.7" r="2.3" fill="#c8c8c8"/>
<circle cx="102.3" cy="508.0" r="2.3" fill="#c8c8c8"/>
<circle cx="95.1" cy="476.0" r="2.3" fill="#c8c8c8"/>
<circle cx="95.1" cy="506.3" r="2.3" fill="#c8c8c8"/>
<circle cx="103.9" cy="501.9" r="2.3" fill="#c8c8c8"/>
<circle cx="104.0" cy="492.0" r="2.3" fill="#c8c8c8"/>
<circle cx="100.5" cy="490.3" r="2.3" fill="#c8c8c8"/>
<circle cx="103.8" cy="505.1" r="2.3" fill="#c8c8c8"/>
<circle cx="99.7" cy="483.8" r="2.3" fill="#c8c8c8"/>
<circle cx="106.3" cy="494.2" r="2.3" fill="#c8c8c8"/>
<circle cx="95.8" cy="499.4" r="2.3" fill="#c8c8c8"/>
<circle cx="99.1" cy="497.6" r="2.3" fill="#c8c8c8"/>
<circle cx="106.9" cy="479.0" r="2.3" fill="#c8c8c8"/>
<circle cx="101.0" cy="501.6" r="2.3" fill="#c8c8c8"/>
<circle cx="99.3" cy="492.5" r="2.3" fill="#c8c8c8"/>
<circle cx="109.8" cy="490.8" r="2.3" fill="#c8c8c8"/>
<circle cx="107.5" cy="490.5" r="2.3" fill="#c8c8c8"/>
<circle cx="107.3" cy="500.5" r="2.3" fill="#c8c8c8"/>
<circle cx="106.8" cy="492.2" r="2.3" fill="#c8c8c8"/>
<circle cx="106.5" cy="491.7" r="2.3" fill="#c8c8c8"/>
<circle cx="95.7" cy="486.4" r="2.3" fill="#c8c8c8"/>
<circle cx="108.9" cy="486.4" r="2.3" fill="#c8c8c8"/>
<circle cx="104.6" cy="513.6" r="2.3" fill="#c8c8c8"/>
<circle cx="106.3" cy="496.8" r="2.3" fill="#c8c8c8"/>
<circle cx="103.7" cy="507.9" r="2.3" fill="#c8c8c8"/>
<circle cx="101.3" cy="494.5" r="2.3" fill="#c8c8c8"/>
<circle cx="105.2" cy="512.9" r="2.3" fill="#c8c8c8"/>
<circle cx="96.1" cy="492.1" r="2.3" fill="#c8c8c8"/>
<circle cx="106.7" cy="480.8" r="2.3" fill="#c8c8c8"/>
<circle cx="100.7" cy="499.2" r="2.3" fill="#c8c8c8"/>
<circle cx="101.7" cy="490.1" r="2.3" fill="#c8c8c8"/>
<circle cx="99.8" cy="495.6" r="2.3" fill="#c8c8c8"/>
<circle cx="106.0" cy="497.8" r="2.3" fill="#c8c8c8"/>
<circle cx="107.5" cy="495.8" r="2.3" fill="#c8c8c8"/>
<circle cx="105.0" cy="490.0" r="2.3" fill="#c8c8c8"/>
<circle cx="96.8" cy="492.8" r="2.3" fill="#c8c8c8"/>
<circle cx="99.7" cy="504.4" r="2.3" fill="#c8c8c8"/>
<circle cx="108.8" cy="490.9" r="2.3" fill="#c8c8c8"/>
<circle cx="98.2" cy="484.9" r="2.3" fill="#c8c8c8"/>
<circle cx="122.6" cy="501.1" r="2.3" fill="#c8c8c8"/>
<circle cx="111.9" cy="502.3" r="2.3" fill="#c8c8c8"/>
<circle cx="110.5" cy="489.6" r="2.3" fill="#c8c8c8"/>
<circle cx="116.5" cy="487.4" r="2.3" fill="#c8c8c8"/>
<circle cx="123.9" cy="504.3" r="2.3" fill="#c8c8c8"/>
<circle cx="117.4" cy="493.1" r="2.3" fill="#c8c8c8"/>
<circle cx="121.7" cy="488.6" r="2.3" fill="#c8c8c8"/>
<circle cx="111.6" cy="495.8" r="2.3" fill="#c8c8c8"/>
<circle cx="118.8" cy="491.2" r="2.3" fill="#c8c8c8"/>
<circle cx="113.0" cy="493.3" r="2.3" fill="#c8c8c8"/>
<circle cx="115.2" cy="499.9" r="2.3" fill="#c8c8c8"/>
<circle cx="118.9" cy="488.1" r="2.3" fill="#c8c8c8"/>
<circle cx="118.6" cy="495.0" r="2.3" fill="#c8c8c8"/>
<circle cx="122.6" cy="489.3" r="2.3" fill="#c8c8c8"/>
<circle cx="117.2" cy="504.2" r="2.3" fill="#c8c8c8"/>
<circle cx="124.7" cy="490.2" r="2.3" fill="#c8c8c8"/>
<circle cx="113.5" cy="506.9" r="2.3" fill="#c8c8c8"/>
<circle cx="113.9" cy="494.7" r="2.3" fill="#c8c8c8"/>
<circle cx="113.9" cy="485.6" r="2.3" fill="#c8c8c8"/>
<circle cx="111.0" cy="499.5" r="2.3" fill="#c8c8c8"/>
<circle cx="120.7" cy="489.1" r="2.3" fill="#c8c8c8"/>
<circle cx="116.5" cy="488.4" r="2.3" fill="#c8c8c8"/>
<circle cx="124.6" cy="489.1" r="2.3" fill="#c8c8c8"/>
<circle cx="123.6" cy="487.1" r="2.3" fill="#c8c8c8"/>
<circle cx="113.5" cy="498.5" r="2.3" fill="#c8c8c8"/>
<circle cx="121.3" cy="501.5" r="2.3" fill="#c8c8c8"/>
<circle cx="122.7" cy="500.1" r="2.3" fill="#c8c8c8"/>
<circle cx="110.5" cy="492.7" r="2.3" fill="#c8c8c8"/>
<circle cx="118.3" cy="486.2" r="2.3" fill="#c8c8c8"/>
<circle cx="115.0" cy="507.4" r="2.3" fill="#c8c8c8"/>
<circle cx="121.5" cy="512.0" r="2.3" fill="#c8c8c8"/>
<circle cx="122.1" cy="507.5" r="2.3" fill="#c8c8c8"/>
<circle cx="113.3" cy="504.1" r="2.3" fill="#c8c8c8"/>
<circle cx="113.0" cy="485.3" r="2.3" fill="#c8c8c8"/>
<circle cx="111.8" cy="493.6" r="2.3" fill="#c8c8c8"/>
<circle cx="121.5" cy="481.1" r="2.3" fill="#c8c8c8"/>
<circle cx="123.9" cy="487.5" r="2.3" fill="#c8c8c8"/>
<circle cx="120.3" cy="483.1" r="2.3" fill="#c8c8c8"/>
<circle cx="120.8" cy="510.8" r="2.3" fill="#c8c8c8"/>
<circle cx="114.4" cy="504.1" r="2.3" fill="#c8c8c8"/>
<circle cx="114.0" cy="485.9" r="2.3" fill="#c8c8c8"/>
<circle cx="113.7" cy="505.8" r="2.3" fill="#c8c8c8"/>
<circle cx="113.8" cy="497.3" r="2.3" fill="#c8c8c8"/>
<circle cx="114.4" cy="495.9" r="2.3" fill="#c8c8c8"/>
<circle cx="117.3" cy="500.2" r="2.3" fill="#c8c8c8"/>
<circle cx="114.1" cy="494.6" r="2.3" fill="#c8c8c8"/>
<circle cx="117.6" cy="502.3" r="2.3" fill="#c8c8c8"/>
<circle cx="123.1" cy="504.5" r="2.3" fill="#c8c8c8"/>
<circle cx="122.8" cy="509.4" r="2.3" fill="#c8c8c8"/>
<circle cx="119.1" cy="483.5" r="2.3" fill="#c8c8c8"/>
<circle cx="118.0" cy="492.5" r="2.3" fill="#c8c8c8"/>
<circle cx="119.9" cy="508.1" r="2.3" fill="#c8c8c8"/>
<circle cx="113.9" cy="489.3" r="2.3" fill="#c8c8c8"/>
<circle cx="110.8" cy="503.0" r="2.3" fill="#c8c8c8"/>
<circle cx="121.8" cy="493.1" r="2.3" fill="#c8c8c8"/>
<circle cx="113.5" cy="488.6" r="2.3" fill="#c8c8c8"/>
<circle cx="120.9" cy="498.2" r="2.3" fill="#c8c8c8"/>
<circle cx="124.2" cy="485.7" r="2.3" fill="#c8c8c8"/>
<circle cx="115.2" cy="495.6" r="2.3" fill="#c8c8c8"/>
<circle cx="113.5" cy="499.7" r="2.3" fill="#c8c8c8"/>
<circle cx="124.1" cy="494.8" r="2.3" fill="#c8c8c8"/>
<circle cx="119.9" cy="511.5" r="2.3" fill="#c8c8c8"/>
<circle cx="111.5" cy="503.5" r="2.3" fill="#c8c8c8"/>
<circle cx="118.5" cy="513.5" r="2.3" fill="#c8c8c8"/>
<circle cx="114.6" cy="512.4" r="2.3" fill="#c8c8c8"/>
<circle cx="123.1" cy="507.0" r="2.3" fill="#c8c8c8"/>
<circle cx="111.0" cy="500.5" r="2.3" fill="#c8c8c8"/>
<circle cx="110.4" cy="478.0" r="2.3" fill="#c8c8c8"/>
<circle cx="120.3" cy="486.2" r="2.3" fill="#c8c8c8"/>
<circle cx="122.8" cy="498.1" r="2.3" fill="#c8c8c8"/>
<circle cx="111.2" cy="486.5" r="2.3" fill="#c8c8c8"/>
<circle cx="117.9" cy="499.9" r="2.3" fill="#c8c8c8"/>
<circle cx="115.3" cy="505.0" r="2.3" fill="#c8c8c8"/>
<circle cx="117.5" cy="500.0" r="2.3" fill="#c8c8c8"/>
<circle cx="116.3" cy="507.8" r="2.3" fill="#c8c8c8"/>
<circle cx="117.3" cy="504.1" r="2.3" fill="#c8c8c8"/>
<circle cx="118.4" cy="500.4" r="2.3" fill="#c8c8c8"/>
<circle cx="124.6" cy="492.0" r="2.3" fill="#c8c8c8"/>
<circle cx="114.5" cy="494.4" r="2.3" fill="#c8c8c8"/>
<circle cx="115.0" cy="490.4" r="2.3" fill="#c8c8c8"/>
<circle cx="124.6" cy="478.0" r="2.3" fill="#c8c8c8"/>
<circle cx="124.2" cy="510.1" r="2.3" fill="#c8c8c8"/>
<circle cx="124.0" cy="488.8" r="2.3" fill="#c8c8c8"/>
<circle cx="110.3" cy="485.3" r="2.3" fill="#c8c8c8"/>
<circle cx="120.3" cy="496.7" r="2.3" fill="#c8c8c8"/>
<circle cx="119.2" cy="481.9" r="2.3" fill="#c8c8c8"/>
<circle cx="111.3" cy="483.9" r="2.3" fill="#c8c8c8"/>
<circle cx="117.8" cy="498.0" r="2.3" fill="#c8c8c8"/>
<circle cx="111.7" cy="495.5" r="2.3" fill="#c8c8c8"/>
<circle cx="138.0" cy="498.7" r="2.3" fill="#c8c8c8"/>
<circle cx="125.5" cy="496.5" r="2.3" fill="#c8c8c8"/>
<circle cx="137.4" cy="493.3" r="2.3" fill="#c8c8c8"/>
<circle cx="133.7" cy="488.0" r="2.3" fill="#c8c8c8"/>
<circle cx="136.4" cy="497.1" r="2.3" fill="#c8c8c8"/>
<circle cx="126.0" cy="496.7" r="2.3" fill="#c8c8c8"/>
<circle cx="136.9" cy="512.0" r="2.3" fill="#c8c8c8"/>
<circle cx="131.1" cy="494.7" r="2.3" fill="#c8c8c8"/>
<circle cx="130.0" cy="496.2" r="2.3" fill="#c8c8c8"/>
<circle cx="136.6" cy="498.1" r="2.3" fill="#c8c8c8"/>
<circle cx="128.9" cy="488.6" r="2.3" fill="#c8c8c8"/>
<circle cx="130.0" cy="492.0" r="2.3" fill="#c8c8c8"/>
<circle cx="135.1" cy="491.4" r="2.3" fill="#c8c8c8"/>
<circle cx="138.2" cy="498.6" r="2.3" fill="#c8c8c8"/>
<circle cx="127.6" cy="500.6" r="2.3" fill="#c8c8c8"/>
<circle cx="132.2" cy="501.9" r="2.3" fill="#c8c8c8"/>
<circle cx="136.8" cy="494.1" r="2.3" fill="#c8c8c8"/>
<circle cx="134.8" cy="502.1" r="2.3" fill="#c8c8c8"/>
<circle cx="128.9" cy="490.9" r="2.3" fill="#c8c8c8"/>
<circle cx="138.2" cy="496.1" r="2.3" fill="#c8c8c8"/>
<circle cx="127.8" cy="497.8" r="2.3" fill="#c8c8c8"/>
<circle cx="129.9" cy="503.7" r="2.3" fill="#c8c8c8"/>
<circle cx="135.9" cy="490.5" r="2.3" fill="#c8c8c8"/>
<circle cx="133.1" cy="484.4" r="2.3" fill="#c8c8c8"/>
<circle cx="126.2" cy="497.5" r="2.3" fill="#c8c8c8"/>
<circle cx="128.3" cy="491.0" r="2.3" fill="#c8c8c8"/>
<circle cx="131.2" cy="504.7" r="2.3" fill="#c8c8c8"/>
<circle cx="130.3" cy="496.5" r="2.3" fill="#c8c8c8"/>
<circle cx="138.7" cy="504.9" r="2.3" fill="#c8c8c8"/>
<circle cx="127.0" cy="496.5" r="2.3" fill="#c8c8c8"/>
<circle cx="136.8" cy="498.5" r="2.3" fill="#c8c8c8"/>
<circle cx="136.9" cy="489.9" r="2.3" fill="#c8c8c8"/>
<circle cx="130.7" cy="494.5" r="2.3" fill="#c8c8c8"/>
<circle cx="136.1" cy="507.4" r="2.3" fill="#c8c8c8"/>
<circle cx="132.1" cy="497.6" r="2.3" fill="#c8c8c8"/>
<circle cx="132.5" cy="495.8" r="2.3" fill="#c8c8c8"/>
<circle cx="130.7" cy="513.3" r="2.3" fill="#c8c8c8"/>
<circle cx="127.2" cy="504.1" r="2.3" fill="#c8c8c8"/>
<circle cx="128.1" cy="511.7" r="2.3" fill="#c8c8c8"/>
<circle cx="139.0" cy="482.9" r="2.3" fill="#c8c8c8"/>
<circle cx="130.1" cy="501.0" r="2.3" fill="#c8c8c8"/>
<circle cx="135.7" cy="495.1" r="2.3" fill="#c8c8c8"/>
<circle cx="139.2" cy="498.5" r="2.3" fill="#c8c8c8"/>
<circle cx="135.2" cy="501.0" r="2.3" fill="#c8c8c8"/>
<circle cx="138.2" cy="494.1" r="2.3" fill="#c8c8c8"/>
<circle cx="131.8" cy="478.0" r="2.3" fill="#c8c8c8"/>
<circle cx="130.6" cy="501.7" r="2.3" fill="#c8c8c8"/>
<circle cx="139.1" cy="501.4" r="2.3" fill="#c8c8c8"/>
<circle cx="126.1" cy="499.9" r="2.3" fill="#c8c8c8"/>
<circle cx="125.7" cy="503.8" r="2.3" fill="#c8c8c8"/>
<circle cx="129.6" cy="498.7" r="2.3" fill="#c8c8c8"/>
<circle cx="132.9" cy="500.7" r="2.3" fill="#c8c8c8"/>
<circle cx="133.1" cy="484.6" r="2.3" fill="#c8c8c8"/>
<circle cx="132.9" cy="491.4" r="2.3" fill="#c8c8c8"/>
<circle cx="139.2" cy="502.0" r="2.3" fill="#c8c8c8"/>
<circle cx="126.2" cy="499.8" r="2.3" fill="#c8c8c8"/>
<circle cx="129.6" cy="498.2" r="2.3" fill="#c8c8c8"/>
<circle cx="132.6" cy="478.9" r="2.3" fill="#c8c8c8"/>
<circle cx="127.4" cy="492.0" r="2.3" fill="#c8c8c8"/>
<circle cx="129.4" cy="506.1" r="2.3" fill="#c8c8c8"/>
<circle cx="136.9" cy="505.7" r="2.3" fill="#c8c8c8"/>
<circle cx="134.0" cy="495.5" r="2.3" fill="#c8c8c8"/>
<circle cx="137.7" cy="491.9" r="2.3" fill="#c8c8c8"/>
<circle cx="139.2" cy="498.1" r="2.3" fill="#c8c8c8"/>
<circle cx="139.7" cy="510.4" r="2.3" fill="#c8c8c8"/>
<circle cx="131.0" cy="499.1" r="2.3" fill="#c8c8c8"/>
<circle cx="125.8" cy="499.6" r="2.3" fill="#c8c8c8"/>
<circle cx="136.0" cy="501.2" r="2.3" fill="#c8c8c8"/>
<circle cx="128.2" cy="502.6" r="2.3" fill="#c8c8c8"/>
<circle cx="137.0" cy="497.7" r="2.3" fill="#c8c8c8"/>
<circle cx="132.5" cy="491.9" r="2.3" fill="#c8c8c8"/>
<circle cx="127.7" cy="489.7" r="2.3" fill="#c8c8c8"/>
<circle cx="125.2" cy="496.2" r="2.3" fill="#c8c8c8"/>
<circle cx="128.9" cy="499.2" r="2.3" fill="#c8c8c8"/>
<circle cx="134.3" cy="490.8" r="2.3" fill="#c8c8c8"/>
<circle cx="134.4" cy="503.6" r="2.3" fill="#c8c8c8"/>
<circle cx="129.8" cy="486.7" r="2.3" fill="#c8c8c8"/>
<circle cx="133.7" cy="510.0" r="2.3" fill="#c8c8c8"/>
<circle cx="131.3" cy="488.4" r="2.3" fill="#c8c8c8"/>
<circle cx="130.0" cy="494.8" r="2.3" fill="#c8c8c8"/>
<circle cx="138.7" cy="499.0" r="2.3" fill="#c8c8c8"/>
<circle cx="137.8" cy="515.6" r="2.3" fill="#c8c8c8"/>
<circle cx="153.2" cy="502.0" r="2.3" fill="#c8c8c8"/>
<circle cx="154.8" cy="505.1" r="2.3" fill="#c8c8c8"/>
<circle cx="144.3" cy="503.1" r="2.3" fill="#c8c8c8"/>
<circle cx="143.5" cy="508.3" r="2.3" fill="#c8c8c8"/>
<circle cx="148.8" cy="507.7" r="2.3" fill="#c8c8c8"/>
<circle cx="144.3" cy="513.2" r="2.3" fill="#c8c8c8"/>
<circle cx="141.5" cy="494.2" r="2.3" fill="#c8c8c8"/>
<circle cx="148.4" cy="490.2" r="2.3" fill="#c8c8c8"/>
<circle cx="147.5" cy="505.5" r="2.3" fill="#c8c8c8"/>
<circle cx="145.7" cy="492.5" r="2.3" fill="#c8c8c8"/>
<circle cx="140.0" cy="490.7" r="2.3" fill="#c8c8c8"/>
<circle cx="148.6" cy="497.1" r="2.3" fill="#c8c8c8"/>
<circle cx="149.5" cy="493.6" r="2.3" fill="#c8c8c8"/>
<circle cx="147.5" cy="497.8" r="2.3" fill="#c8c8c8"/>
<circle cx="147.2" cy="483.6" r="2.3" fill="#c8c8c8"/>
<circle cx="144.2" cy="480.6" r="2.3" fill="#c8c8c8"/>
<circle cx="146.6" cy="509.4" r="2.3" fill="#c8c8c8"/>
<circle cx="143.5" cy="504.3" r="2.3" fill="#c8c8c8"/>
<circle cx="152.4" cy="498.8" r="2.3" fill="#c8c8c8"/>
<circle cx="153.5" cy="491.1" r="2.3" fill="#c8c8c8"/>
<circle cx="147.6" cy="487.9" r="2.3" fill="#c8c8c8"/>
<circle cx="154.2" cy="501.6" r="2.3" fill="#c8c8c8"/>
<circle cx="147.3" cy="490.4" r="2.3" fill="#c8c8c8"/>
<circle cx="152.6" cy="497.7" r="2.3" fill="#c8c8c8"/>
<circle cx="147.5" cy="494.1" r="2.3" fill="#c8c8c8"/>
<circle cx="143.2" cy="501.4" r="2.3" fill="#c8c8c8"/>
<circle cx="152.5" cy="504.3" r="2.3" fill="#c8c8c8"/>
<circle cx="153.8" cy="479.0" r="2.3" fill="#c8c8c8"/>
<circle cx="150.3" cy="500.7" r="2.3" fill="#c8c8c8"/>
<circle cx="152.1" cy="484.9" r="2.3" fill="#c8c8c8"/>
<circle cx="152.0" cy="503.6" r="2.3" fill="#c8c8c8"/>
<circle cx="144.5" cy="510.1" r="2.3" fill="#c8c8c8"/>
<circle cx="143.7" cy="498.5" r="2.3" fill="#c8c8c8"/>
<circle cx="147.7" cy="496.2" r="2.3" fill="#c8c8c8"/>
<circle cx="145.1" cy="499.8" r="2.3" fill="#c8c8c8"/>
<circle cx="153.7" cy="486.4" r="2.3" fill="#c8c8c8"/>
<circle cx="154.0" cy="495.2" r="2.3" fill="#c8c8c8"/>
<circle cx="150.0" cy="494.7" r="2.3" fill="#c8c8c8"/>
<circle cx="141.6" cy="513.1" r="2.3" fill="#c8c8c8"/>
<circle cx="144.7" cy="495.2" r="2.3" fill="#c8c8c8"/>
<circle cx="142.8" cy="492.4" r="2.3" fill="#c8c8c8"/>
<circle cx="154.8" cy="484.3" r="2.3" fill="#c8c8c8"/>
<circle cx="149.3" cy="506.1" r="2.3" fill="#c8c8c8"/>
<circle cx="140.9" cy="506.1" r="2.3" fill="#c8c8c8"/>
<circle cx="153.0" cy="498.6" r="2.3" fill="#c8c8c8"/>
<circle cx="153.1" cy="483.1" r="2.3" fill="#c8c8c8"/>
<circle cx="148.5" cy="507.7" r="2.3" fill="#c8c8c8"/>
<circle cx="147.4" cy="493.0" r="2.3" fill="#c8c8c8"/>
<circle cx="145.8" cy="496.0" r="2.3" fill="#c8c8c8"/>
<circle cx="142.4" cy="498.4" r="2.3" fill="#c8c8c8"/>
<circle cx="151.9" cy="498.6" r="2.3" fill="#c8c8c8"/>
<circle cx="151.6" cy="508.5" r="2.3" fill="#c8c8c8"/>
<circle cx="150.4" cy="490.1" r="2.3" fill="#c8c8c8"/>
<circle cx="144.1" cy="496.3" r="2.3" fill="#c8c8c8"/>
<circle cx="142.8" cy="489.7" r="2.3" fill="#c8c8c8"/>
<circle cx="154.1" cy="487.2" r="2.3" fill="#c8c8c8"/>
<circle cx="145.0" cy="512.8" r="2.3" fill="#c8c8c8"/>
<circle cx="144.4" cy="489.2" r="2.3" fill="#c8c8c8"/>
<circle cx="154.3" cy="482.0" r="2.3" fill="#c8c8c8"/>
<circle cx="151.6" cy="483.0" r="2.3" fill="#c8c8c8"/>
<circle cx="145.0" cy="495.2" r="2.3" fill="#c8c8c8"/>
<circle cx="147.3" cy="506.6" r="2.3" fill="#c8c8c8"/>
<circle cx="140.5" cy="503.4" r="2.3" fill="#c8c8c8"/>
<circle cx="147.1" cy="489.5" r="2.3" fill="#c8c8c8"/>
<circle cx="151.2" cy="497.0" r="2.3" fill="#c8c8c8"/>
<circle cx="148.7" cy="502.3" r="2.3" fill="#c8c8c8"/>
<circle cx="143.6" cy="495.6" r="2.3" fill="#c8c8c8"/>
<circle cx="140.8" cy="499.7" r="2.3" fill="#c8c8c8"/>
<circle cx="145.3" cy="479.0" r="2.3" fill="#c8c8c8"/>
<circle cx="149.6" cy="493.7" r="2.3" fill="#c8c8c8"/>
<circle cx="146.2" cy="492.1" r="2.3" fill="#c8c8c8"/>
<circle cx="147.1" cy="500.2" r="2.3" fill="#c8c8c8"/>
<circle cx="154.4" cy="503.1" r="2.3" fill="#c8c8c8"/>
<circle cx="150.3" cy="502.9" r="2.3" fill="#c8c8c8"/>
<circle cx="151.4" cy="486.2" r="2.3" fill="#c8c8c8"/>
<circle cx="167.2" cy="493.1" r="2.3" fill="#c8c8c8"/>
<circle cx="166.7" cy="496.9" r="2.3" fill="#c8c8c8"/>
<circle cx="168.0" cy="507.0" r="2.3" fill="#c8c8c8"/>
<circle cx="161.9" cy="502.1" r="2.3" fill="#c8c8c8"/>
<circle cx="155.7" cy="509.7" r="2.3" fill="#c8c8c8"/>
<circle cx="157.0" cy="490.9" r="2.3" fill="#c8c8c8"/>
<circle cx="164.4" cy="495.0" r="2.3" fill="#c8c8c8"/>
<circle cx="164.4" cy="491.2" r="2.3" fill="#c8c8c8"/>
<circle cx="163.4" cy="509.4" r="2.3" fill="#c8c8c8"/>
<circle cx="164.2" cy="488.8" r="2.3" fill="#c8c8c8"/>
<circle cx="156.4" cy="499.3" r="2.3" fill="#c8c8c8"/>
<circle cx="161.2" cy="513.1" r="2.3" fill="#c8c8c8"/>
<circle cx="155.7" cy="492.3" r="2.3" fill="#c8c8c8"/>
<circle cx="155.9" cy="495.5" r="2.3" fill="#c8c8c8"/>
<circle cx="160.7" cy="509.2" r="2.3" fill="#c8c8c8"/>
<circle cx="156.7" cy="487.7" r="2.3" fill="#c8c8c8"/>
<circle cx="164.7" cy="501.7" r="2.3" fill="#c8c8c8"/>
<circle cx="160.2" cy="489.9" r="2.3" fill="#c8c8c8"/>
<circle cx="163.0" cy="487.2" r="2.3" fill="#c8c8c8"/>
<circle cx="155.6" cy="496.0" r="2.3" fill="#c8c8c8"/>
<circle cx="155.7" cy="492.9" r="2.3" fill="#c8c8c8"/>
<circle cx="161.2" cy="500.1" r="2.3" fill="#c8c8c8"/>
<circle cx="160.1" cy="497.3" r="2.3" fill="#c8c8c8"/>
<circle cx="161.1" cy="512.6" r="2.3" fill="#c8c8c8"/>
<circle cx="166.1" cy="509.2" r="2.3" fill="#c8c8c8"/>
<circle cx="161.3" cy="491.1" r="2.3" fill="#c8c8c8"/>
<circle cx="167.8" cy="493.3" r="2.3" fill="#c8c8c8"/>
<circle cx="156.6" cy="495.1" r="2.3" fill="#c8c8c8"/>
<circle cx="166.3" cy="502.3" r="2.3" fill="#c8c8c8"/>
<circle cx="161.6" cy="490.2" r="2.3" fill="#c8c8c8"/>
<circle cx="166.5" cy="501.3" r="2.3" fill="#c8c8c8"/>
<circle cx="158.3" cy="500.2" r="2.3" fill="#c8c8c8"/>
<circle cx="160.8" cy="484.9" r="2.3" fill="#c8c8c8"/>
<circle cx="159.8" cy="488.9" r="2.3" fill="#c8c8c8"/>
<circle cx="159.1" cy="500.4" r="2.3" fill="#c8c8c8"/>
<circle cx="163.1" cy="491.2" r="2.3" fill="#c8c8c8"/>
<circle cx="165.0" cy="500.6" r="2.3" fill="#c8c8c8"/>
<circle cx="160.9" cy="480.8" r="2.3" fill="#c8c8c8"/>
<circle cx="160.9" cy="499.7" r="2.3" fill="#c8c8c8"/>
<circle cx="159.9" cy="514.0" r="2.3" fill="#c8c8c8"/>
<circle cx="165.2" cy="483.9" r="2.3" fill="#c8c8c8"/>
<circle cx="160.2" cy="490.8" r="2.3" fill="#c8c8c8"/>
<circle cx="158.9" cy="485.4" r="2.3" fill="#c8c8c8"/>
<circle cx="164.4" cy="508.1" r="2.3" fill="#c8c8c8"/>
<circle cx="163.7" cy="493.4" r="2.3" fill="#c8c8c8"/>
<circle cx="160.7" cy="493.7" r="2.3" fill="#c8c8c8"/>
<circle cx="165.0" cy="492.3" r="2.3" fill="#c8c8c8"/>
<circle cx="162.0" cy="504.3" r="2.3" fill="#c8c8c8"/>
<circle cx="164.3" cy="496.1" r="2.3" fill="#c8c8c8"/>
<circle cx="155.2" cy="485.2" r="2.3" fill="#c8c8c8"/>
<circle cx="158.4" cy="503.9" r="2.3" fill="#c8c8c8"/>
<circle cx="163.0" cy="498.5" r="2.3" fill="#c8c8c8"/>
<circle cx="167.9" cy="504.9" r="2.3" fill="#c8c8c8"/>
<circle cx="157.6" cy="499.4" r="2.3" fill="#c8c8c8"/>
<circle cx="162.6" cy="495.5" r="2.3" fill="#c8c8c8"/>
<circle cx="178.7" cy="500.2" r="2.3" fill="#c8c8c8"/>
<circle cx="175.7" cy="489.2" r="2.3" fill="#c8c8c8"/>
<circle cx="177.3" cy="497.0" r="2.3" fill="#c8c8c8"/>
<circle cx="175.5" cy="482.8" r="2.3" fill="#c8c8c8"/>
<circle cx="171.3" cy="493.1" r="2.3" fill="#c8c8c8"/>
<circle cx="175.1" cy="486.1" r="2.3" fill="#c8c8c8"/>
<circle cx="180.8" cy="505.1" r="2.3" fill="#c8c8c8"/>
<circle cx="172.2" cy="506.5" r="2.3" fill="#c8c8c8"/>
<circle cx="177.4" cy="502.1" r="2.3" fill="#c8c8c8"/>
<circle cx="175.4" cy="494.0" r="2.3" fill="#c8c8c8"/>
<circle cx="174.9" cy="491.2" r="2.3" fill="#c8c8c8"/>
<circle cx="176.1" cy="496.1" r="2.3" fill="#c8c8c8"/>
<circle cx="179.6" cy="492.6" r="2.3" fill="#c8c8c8"/>
<circle cx="178.5" cy="490.3" r="2.3" fill="#c8c8c8"/>
<circle cx="173.5" cy="502.7" r="2.3" fill="#c8c8c8"/>
<circle cx="174.0" cy="504.6" r="2.3" fill="#c8c8c8"/>
<circle cx="174.9" cy="506.4" r="2.3" fill="#c8c8c8"/>
<circle cx="180.4" cy="495.4" r="2.3" fill="#c8c8c8"/>
<circle cx="172.6" cy="496.2" r="2.3" fill="#c8c8c8"/>
<circle cx="171.9" cy="492.8" r="2.3" fill="#c8c8c8"/>
<circle cx="177.0" cy="490.5" r="2.3" fill="#c8c8c8"/>
<circle cx="172.9" cy="482.0" r="2.3" fill="#c8c8c8"/>
<circle cx="171.6" cy="489.7" r="2.3" fill="#c8c8c8"/>
<circle cx="168.3" cy="503.7" r="2.3" fill="#c8c8c8"/>
<circle cx="172.9" cy="493.5" r="2.3" fill="#c8c8c8"/>
<circle cx="172.0" cy="492.2" r="2.3" fill="#c8c8c8"/>
<circle cx="179.3" cy="501.5" r="2.3" fill="#c8c8c8"/>
<circle cx="170.3" cy="493.5" r="2.3" fill="#c8c8c8"/>
<circle cx="169.5" cy="508.2" r="2.3" fill="#c8c8c8"/>
<circle cx="177.6" cy="503.3" r="2.3" fill="#c8c8c8"/>
<circle cx="171.4" cy="483.7" r="2.3" fill="#c8c8c8"/>
<circle cx="168.4" cy="496.8" r="2.3" fill="#c8c8c8"/>
<circle cx="178.6" cy="499.5" r="2.3" fill="#c8c8c8"/>
<circle cx="177.1" cy="491.7" r="2.3" fill="#c8c8c8"/>
<circle cx="74.8" cy="397.3" r="2.3" fill="#c8c8c8"/>
<circle cx="82.0" cy="404.9" r="2.3" fill="#c8c8c8"/>
<circle cx="84.5" cy="404.6" r="2.3" fill="#c8c8c8"/>
<circle cx="72.7" cy="410.5" r="2.3" fill="#c8c8c8"/>
<circle cx="74.0" cy="418.5" r="2.3" fill="#c8c8c8"/>
<circle cx="103.7" cy="425.7" r="2.3" fill="#c8c8c8"/>
<circle cx="72.4" cy="436.2" r="2.3" fill="#c8c8c8"/>
<circle cx="77.2" cy="433.0" r="2.3" fill="#c8c8c8"/>
<circle cx="81.2" cy="435.4" r="2.3" fill="#c8c8c8"/>
<circle cx="85.3" cy="434.9" r="2.3" fill="#c8c8c8"/>
<circle cx="90.4" cy="433.0" r="2.3" fill="#c8c8c8"/>
<circle cx="120.6" cy="440.7" r="2.3" fill="#c8c8c8"/>
<circle cx="82.0" cy="441.8" r="2.3" fill="#c8c8c8"/>
<circle cx="75.6" cy="447.4" r="2.3" fill="#c8c8c8"/>
<circle cx="83.7" cy="450.6" r="2.3" fill="#c8c8c8"/>
<circle cx="98.1" cy="451.4" r="2.3" fill="#c8c8c8"/>
<circle cx="114.2" cy="462.7" r="2.3" fill="#c8c8c8"/>
<circle cx="121.4" cy="471.5" r="2.3" fill="#c8c8c8"/>
<circle cx="127.8" cy="476.3" r="2.3" fill="#c8c8c8"/>
<circle cx="114.4" cy="462.4" r="2.3" fill="#c8c8c8"/>
<circle cx="121.0" cy="470.4" r="2.3" fill="#c8c8c8"/>
<circle cx="142.8" cy="468.5" r="2.3" fill="#c8c8c8"/>
<circle cx="150.4" cy="475.1" r="2.3" fill="#c8c8c8"/>
<circle cx="127.7" cy="475.1" r="2.3" fill="#c8c8c8"/>
<circle cx="120.1" cy="441.0" r="2.3" fill="#c8c8c8"/>
<circle cx="105.8" cy="517.8" r="2.3" fill="#c8c8c8"/>
<circle cx="120.1" cy="522.5" r="2.3" fill="#c8c8c8"/>
<circle cx="131.5" cy="521.6" r="2.3" fill="#c8c8c8"/>
<circle cx="126.3" cy="532.0" r="2.3" fill="#c8c8c8"/>
<circle cx="143.8" cy="532.0" r="2.3" fill="#c8c8c8"/>
<circle cx="147.6" cy="523.5" r="2.3" fill="#c8c8c8"/>
<circle cx="166.6" cy="525.4" r="2.3" fill="#c8c8c8"/>
<circle cx="106.8" cy="537.7" r="2.3" fill="#c8c8c8"/>
<circle cx="179.9" cy="508.3" r="2.3" fill="#c8c8c8"/>
<circle cx="180.8" cy="512.1" r="2.3" fill="#c8c8c8"/>
<circle cx="162.8" cy="515.0" r="2.3" fill="#c8c8c8"/>
<circle cx="73.6" cy="511.2" r="2.3" fill="#c8c8c8"/>
<circle cx="85.9" cy="509.3" r="2.3" fill="#c8c8c8"/>
<circle cx="106.6" cy="538.0" r="2.3" fill="#c8c8c8"/>
<circle cx="126.1" cy="531.5" r="2.3" fill="#c8c8c8"/>
<circle cx="143.6" cy="531.5" r="2.3" fill="#c8c8c8"/>
<circle cx="147.4" cy="543.8" r="2.3" fill="#c8c8c8"/>
<circle cx="151.8" cy="541.5" r="2.3" fill="#c8c8c8"/>
<circle cx="156.2" cy="537.4" r="2.3" fill="#c8c8c8"/>
<circle cx="166.4" cy="525.7" r="2.3" fill="#c8c8c8"/>
<circle cx="122.6" cy="568.6" r="2.3" fill="#c8c8c8"/>
<circle cx="178.7" cy="510.2" r="2.3" fill="#c8c8c8"/>
<circle cx="181.6" cy="513.1" r="2.3" fill="#c8c8c8"/>
<line x1="95.00" y1="368.40" x2="95.00" y2="578.10" stroke="#0d0d0d" stroke-width="2.0" stroke-dasharray="3.3 2.35" stroke-linecap="butt"/>
<line x1="69.50" y1="482.40" x2="193.40" y2="482.40" stroke="#1e1e1e" stroke-width="1.6" stroke-dasharray="3.3 2.35" stroke-linecap="butt"/>
<circle cx="74.3" cy="469.6" r="3.3" fill="#f2f2f2" fill-opacity="0.75" stroke="#666" stroke-width="1.15"/>
<line x1="74.30" y1="466.20" x2="74.30" y2="473.00" stroke="#666" stroke-width="1.0" stroke-linecap="butt"/>
<line x1="72.10" y1="466.40" x2="76.50" y2="466.40" stroke="#666" stroke-width="1.0" stroke-linecap="butt"/>
<line x1="72.10" y1="472.80" x2="76.50" y2="472.80" stroke="#666" stroke-width="1.0" stroke-linecap="butt"/>
<circle cx="83.8" cy="473.6" r="3.3" fill="#f2f2f2" fill-opacity="0.75" stroke="#666" stroke-width="1.15"/>
<line x1="83.85" y1="470.20" x2="83.85" y2="477.00" stroke="#666" stroke-width="1.0" stroke-linecap="butt"/>
<line x1="81.65" y1="470.40" x2="86.05" y2="470.40" stroke="#666" stroke-width="1.0" stroke-linecap="butt"/>
<line x1="81.65" y1="476.80" x2="86.05" y2="476.80" stroke="#666" stroke-width="1.0" stroke-linecap="butt"/>
<circle cx="93.4" cy="481.7" r="3.3" fill="#f2f2f2" fill-opacity="0.75" stroke="#666" stroke-width="1.15"/>
<line x1="93.40" y1="478.30" x2="93.40" y2="485.10" stroke="#666" stroke-width="1.0" stroke-linecap="butt"/>
<line x1="91.20" y1="478.50" x2="95.60" y2="478.50" stroke="#666" stroke-width="1.0" stroke-linecap="butt"/>
<line x1="91.20" y1="484.90" x2="95.60" y2="484.90" stroke="#666" stroke-width="1.0" stroke-linecap="butt"/>
<circle cx="103.0" cy="488.4" r="3.3" fill="#f2f2f2" fill-opacity="0.75" stroke="#666" stroke-width="1.15"/>
<line x1="102.95" y1="485.00" x2="102.95" y2="491.80" stroke="#666" stroke-width="1.0" stroke-linecap="butt"/>
<line x1="100.75" y1="485.20" x2="105.15" y2="485.20" stroke="#666" stroke-width="1.0" stroke-linecap="butt"/>
<line x1="100.75" y1="491.60" x2="105.15" y2="491.60" stroke="#666" stroke-width="1.0" stroke-linecap="butt"/>
<circle cx="112.5" cy="493.5" r="3.3" fill="#f2f2f2" fill-opacity="0.75" stroke="#666" stroke-width="1.15"/>
<line x1="112.50" y1="490.10" x2="112.50" y2="496.90" stroke="#666" stroke-width="1.0" stroke-linecap="butt"/>
<line x1="110.30" y1="490.30" x2="114.70" y2="490.30" stroke="#666" stroke-width="1.0" stroke-linecap="butt"/>
<line x1="110.30" y1="496.70" x2="114.70" y2="496.70" stroke="#666" stroke-width="1.0" stroke-linecap="butt"/>
<circle cx="122.0" cy="497.2" r="3.3" fill="#f2f2f2" fill-opacity="0.75" stroke="#666" stroke-width="1.15"/>
<line x1="122.05" y1="493.80" x2="122.05" y2="500.60" stroke="#666" stroke-width="1.0" stroke-linecap="butt"/>
<line x1="119.85" y1="494.00" x2="124.25" y2="494.00" stroke="#666" stroke-width="1.0" stroke-linecap="butt"/>
<line x1="119.85" y1="500.40" x2="124.25" y2="500.40" stroke="#666" stroke-width="1.0" stroke-linecap="butt"/>
<circle cx="131.6" cy="495.0" r="3.3" fill="#f2f2f2" fill-opacity="0.75" stroke="#666" stroke-width="1.15"/>
<line x1="131.60" y1="491.60" x2="131.60" y2="498.40" stroke="#666" stroke-width="1.0" stroke-linecap="butt"/>
<line x1="129.40" y1="491.80" x2="133.80" y2="491.80" stroke="#666" stroke-width="1.0" stroke-linecap="butt"/>
<line x1="129.40" y1="498.20" x2="133.80" y2="498.20" stroke="#666" stroke-width="1.0" stroke-linecap="butt"/>
<circle cx="141.2" cy="496.5" r="3.3" fill="#f2f2f2" fill-opacity="0.75" stroke="#666" stroke-width="1.15"/>
<line x1="141.15" y1="493.10" x2="141.15" y2="499.90" stroke="#666" stroke-width="1.0" stroke-linecap="butt"/>
<line x1="138.95" y1="493.30" x2="143.35" y2="493.30" stroke="#666" stroke-width="1.0" stroke-linecap="butt"/>
<line x1="138.95" y1="499.70" x2="143.35" y2="499.70" stroke="#666" stroke-width="1.0" stroke-linecap="butt"/>
<circle cx="150.7" cy="499.4" r="3.3" fill="#f2f2f2" fill-opacity="0.75" stroke="#666" stroke-width="1.15"/>
<line x1="150.70" y1="496.00" x2="150.70" y2="502.80" stroke="#666" stroke-width="1.0" stroke-linecap="butt"/>
<line x1="148.50" y1="496.20" x2="152.90" y2="496.20" stroke="#666" stroke-width="1.0" stroke-linecap="butt"/>
<line x1="148.50" y1="502.60" x2="152.90" y2="502.60" stroke="#666" stroke-width="1.0" stroke-linecap="butt"/>
<circle cx="160.2" cy="501.3" r="3.3" fill="#f2f2f2" fill-opacity="0.75" stroke="#666" stroke-width="1.15"/>
<line x1="160.25" y1="497.90" x2="160.25" y2="504.70" stroke="#666" stroke-width="1.0" stroke-linecap="butt"/>
<line x1="158.05" y1="498.10" x2="162.45" y2="498.10" stroke="#666" stroke-width="1.0" stroke-linecap="butt"/>
<line x1="158.05" y1="504.50" x2="162.45" y2="504.50" stroke="#666" stroke-width="1.0" stroke-linecap="butt"/>
<circle cx="169.8" cy="496.5" r="3.3" fill="#f2f2f2" fill-opacity="0.75" stroke="#666" stroke-width="1.15"/>
<line x1="169.80" y1="493.10" x2="169.80" y2="499.90" stroke="#666" stroke-width="1.0" stroke-linecap="butt"/>
<line x1="167.60" y1="493.30" x2="172.00" y2="493.30" stroke="#666" stroke-width="1.0" stroke-linecap="butt"/>
<line x1="167.60" y1="499.70" x2="172.00" y2="499.70" stroke="#666" stroke-width="1.0" stroke-linecap="butt"/>
<circle cx="179.4" cy="498.7" r="3.3" fill="#f2f2f2" fill-opacity="0.75" stroke="#666" stroke-width="1.15"/>
<line x1="179.35" y1="495.30" x2="179.35" y2="502.10" stroke="#666" stroke-width="1.0" stroke-linecap="butt"/>
<line x1="177.15" y1="495.50" x2="181.55" y2="495.50" stroke="#666" stroke-width="1.0" stroke-linecap="butt"/>
<line x1="177.15" y1="501.90" x2="181.55" y2="501.90" stroke="#666" stroke-width="1.0" stroke-linecap="butt"/>
<path d="M69.5,468.0 L69.9,468.1 L70.4,468.2 L71.0,468.4 L71.6,468.5 L72.3,468.7 L73.0,468.9 L73.7,469.1 L74.3,469.3 L74.9,469.5 L75.5,469.8 L76.1,470.0 L76.6,470.3 L77.2,470.5 L77.8,470.8 L78.4,471.2 L79.0,471.5 L79.6,471.9 L80.2,472.3 L80.8,472.7 L81.5,473.1 L82.1,473.6 L82.7,474.1 L83.3,474.5 L84.0,475.0 L84.7,475.5 L85.3,476.0 L86.0,476.5 L86.7,477.0 L87.4,477.5 L88.1,478.0 L88.8,478.5 L89.5,479.0 L90.2,479.5 L90.9,479.9 L91.5,480.3 L92.2,480.7 L92.9,481.1 L93.6,481.5 L94.3,482.0 L95.0,482.5 L95.7,483.1 L96.4,483.7 L97.2,484.3 L97.9,484.9 L98.7,485.6 L99.4,486.2 L100.2,486.9 L101.0,487.5 L101.8,488.1 L102.7,488.7 L103.5,489.3 L104.4,489.8 L105.3,490.4 L106.2,491.0 L107.1,491.5 L108.0,492.0 L108.9,492.5 L109.9,493.0 L110.8,493.5 L111.8,493.9 L112.8,494.3 L113.8,494.8 L114.9,495.1 L116.0,495.5 L117.1,495.8 L118.3,496.1 L119.4,496.4 L120.6,496.7 L121.9,496.9 L123.2,497.1 L124.5,497.3 L126.0,497.5 L127.5,497.7 L129.1,497.8 L130.7,497.9 L132.4,498.0 L134.1,498.0 L136.0,498.1 L137.9,498.1 L140.0,498.2 L142.2,498.3 L144.6,498.3 L147.1,498.4 L149.7,498.4 L152.3,498.4 L154.9,498.5 L157.5,498.5 L160.0,498.5 L162.6,498.5 L165.4,498.5 L168.2,498.5 L171.0,498.4 L173.6,498.4 L176.0,498.3 L178.0,498.3 L179.5,498.3" stroke="#3c3c3c" stroke-width="2.4" fill="none" stroke-linejoin="round"/>
<path d="M72.5,367.9 H69.5 V578.1 H194.2" stroke="#3b3b3b" stroke-width="1.8" fill="none"/>
<line x1="69.50" y1="368.40" x2="72.50" y2="368.40" stroke="#3b3b3b" stroke-width="1.5" stroke-linecap="butt"/>
<line x1="69.50" y1="406.40" x2="72.50" y2="406.40" stroke="#3b3b3b" stroke-width="1.5" stroke-linecap="butt"/>
<line x1="69.50" y1="444.40" x2="72.50" y2="444.40" stroke="#3b3b3b" stroke-width="1.5" stroke-linecap="butt"/>
<line x1="69.50" y1="482.40" x2="72.50" y2="482.40" stroke="#3b3b3b" stroke-width="1.5" stroke-linecap="butt"/>
<line x1="69.50" y1="520.40" x2="72.50" y2="520.40" stroke="#3b3b3b" stroke-width="1.5" stroke-linecap="butt"/>
<line x1="69.50" y1="558.40" x2="72.50" y2="558.40" stroke="#3b3b3b" stroke-width="1.5" stroke-linecap="butt"/>
<line x1="117.25" y1="578.10" x2="117.25" y2="575.10" stroke="#3b3b3b" stroke-width="1.5" stroke-linecap="butt"/>
<line x1="165.00" y1="578.10" x2="165.00" y2="575.10" stroke="#3b3b3b" stroke-width="1.5" stroke-linecap="butt"/>
<line x1="264.00" y1="18.20" x2="277.30" y2="18.20" stroke="#828282" stroke-width="2.2" stroke-linecap="butt"/>
<line x1="264.00" y1="23.80" x2="277.30" y2="23.80" stroke="#828282" stroke-width="1.9" stroke-dasharray="3.2 1.85" stroke-linecap="butt"/>
<line x1="347.00" y1="18.20" x2="360.30" y2="18.20" stroke="#828282" stroke-width="2.2" stroke-linecap="butt"/>
<line x1="347.00" y1="23.80" x2="360.30" y2="23.80" stroke="#828282" stroke-width="1.9" stroke-dasharray="3.2 1.85" stroke-linecap="butt"/>
<line x1="264.00" y1="37.90" x2="277.30" y2="37.90" stroke="#2279d0" stroke-width="2.2" stroke-linecap="butt"/>
<line x1="264.00" y1="43.50" x2="277.30" y2="43.50" stroke="#2279d0" stroke-width="1.9" stroke-dasharray="3.2 1.85" stroke-linecap="butt"/>
<line x1="347.00" y1="38.40" x2="360.30" y2="38.40" stroke="#6cad2c" stroke-width="2.2" stroke-linecap="butt"/>
<line x1="347.00" y1="44.00" x2="360.30" y2="44.00" stroke="#6cad2c" stroke-width="1.9" stroke-dasharray="3.2 1.85" stroke-linecap="butt"/>
<path d="M263.8,129.9 L282.1,103.4 L299.9,77.3 L318.1,57.3 L318.1,70.3 L299.9,87.3 L282.1,111.4 L263.8,135.9 Z" fill="#c9c9c9" fill-opacity="0.85"/>
<path d="M263.8,146.1 L282.1,124.0 L299.9,105.0 L318.1,85.7 L318.1,96.7 L299.9,114.0 L282.1,131.0 L263.8,151.1 Z" fill="#b7cbf1" fill-opacity="0.85"/>
<path d="M263.8,170.6 L282.1,190.8 L299.9,202.5 L318.1,212.4 L318.1,222.4 L299.9,210.5 L282.1,197.8 L263.8,175.6 Z" fill="#c9c9c9" fill-opacity="0.85"/>
<path d="M263.8,157.6 L282.1,171.2 L299.9,182.3 L318.1,195.9 L318.1,202.9 L299.9,188.3 L282.1,176.2 L263.8,161.6 Z" fill="#b7cbf1" fill-opacity="0.85"/>
<path d="M344.1,134.9 L363.1,118.4 L381.8,96.5 L400.3,72.5 L400.3,84.5 L381.8,105.5 L363.1,125.4 L344.1,140.9 Z" fill="#c9c9c9" fill-opacity="0.85"/>
<path d="M344.1,148.3 L363.1,132.8 L381.8,114.2 L400.3,91.8 L400.3,103.8 L381.8,123.2 L363.1,139.8 L344.1,153.3 Z" fill="#d4e6a0" fill-opacity="0.85"/>
<path d="M344.1,160.5 L363.1,181.5 L381.8,190.5 L400.3,202.5 L400.3,211.5 L381.8,197.5 L363.1,187.5 L344.1,165.5 Z" fill="#c9c9c9" fill-opacity="0.85"/>
<path d="M344.1,160.5 L363.1,171.8 L381.8,182.5 L400.3,197.6 L400.3,206.6 L381.8,189.5 L363.1,177.8 L344.1,165.5 Z" fill="#d4e6a0" fill-opacity="0.85"/>
<line x1="253.30" y1="151.30" x2="410.40" y2="151.30" stroke="#333" stroke-width="1.9" stroke-dasharray="4.8 3.4" stroke-linecap="butt"/>
<path d="M263.8,132.9 L282.1,107.4 L299.9,82.3 L318.1,63.8" stroke="#6c6c6c" stroke-width="1.85" fill="none" stroke-linejoin="round"/>
<path d="M263.8,148.6 L282.1,127.5 L299.9,109.5 L318.1,91.2" stroke="#2279d0" stroke-width="1.85" fill="none" stroke-linejoin="round"/>
<path d="M263.8,173.1 L282.1,194.3 L299.9,206.5 L318.1,217.4" stroke="#707070" stroke-width="2.6" fill="none" stroke-dasharray="2.4 1.9"/>
<path d="M263.8,159.6 L282.1,173.7 L299.9,185.3 L318.1,199.4" stroke="#2279d0" stroke-width="2.6" fill="none" stroke-dasharray="2.4 1.9"/>
<path d="M344.1,137.9 L363.1,121.9 L381.8,101.0 L400.3,78.5" stroke="#6c6c6c" stroke-width="1.85" fill="none" stroke-linejoin="round"/>
<path d="M344.1,150.8 L363.1,136.3 L381.8,118.7 L400.3,97.8" stroke="#6cad2c" stroke-width="1.85" fill="none" stroke-linejoin="round"/>
<path d="M344.1,163.0 L363.1,184.5 L381.8,194.0 L400.3,207.0" stroke="#707070" stroke-width="2.6" fill="none" stroke-dasharray="2.4 1.9"/>
<path d="M344.1,163.0 L363.1,174.8 L381.8,186.0 L400.3,202.1" stroke="#6cad2c" stroke-width="2.6" fill="none" stroke-dasharray="2.4 1.9"/>
<path d="M257.3,45.6 H253.3 V256.4 H328" stroke="#3b3b3b" stroke-width="1.8" fill="none"/>
<line x1="334.20" y1="256.40" x2="410.40" y2="256.40" stroke="#3b3b3b" stroke-width="1.8" stroke-linecap="butt"/>
<line x1="253.30" y1="151.30" x2="256.30" y2="151.30" stroke="#3b3b3b" stroke-width="1.5" stroke-linecap="butt"/>
<line x1="263.80" y1="256.40" x2="263.80" y2="253.60" stroke="#3b3b3b" stroke-width="1.5" stroke-linecap="butt"/>
<line x1="282.10" y1="256.40" x2="282.10" y2="253.60" stroke="#3b3b3b" stroke-width="1.5" stroke-linecap="butt"/>
<line x1="299.90" y1="256.40" x2="299.90" y2="253.60" stroke="#3b3b3b" stroke-width="1.5" stroke-linecap="butt"/>
<line x1="318.10" y1="256.40" x2="318.10" y2="253.60" stroke="#3b3b3b" stroke-width="1.5" stroke-linecap="butt"/>
<line x1="344.10" y1="256.40" x2="344.10" y2="253.60" stroke="#3b3b3b" stroke-width="1.5" stroke-linecap="butt"/>
<line x1="363.10" y1="256.40" x2="363.10" y2="253.60" stroke="#3b3b3b" stroke-width="1.5" stroke-linecap="butt"/>
<line x1="381.80" y1="256.40" x2="381.80" y2="253.60" stroke="#3b3b3b" stroke-width="1.5" stroke-linecap="butt"/>
<line x1="400.30" y1="256.40" x2="400.30" y2="253.60" stroke="#3b3b3b" stroke-width="1.5" stroke-linecap="butt"/>
<line x1="264.00" y1="340.20" x2="277.30" y2="340.20" stroke="#828282" stroke-width="2.2" stroke-linecap="butt"/>
<line x1="264.00" y1="345.80" x2="277.30" y2="345.80" stroke="#828282" stroke-width="1.9" stroke-dasharray="3.2 1.85" stroke-linecap="butt"/>
<line x1="347.00" y1="340.20" x2="360.30" y2="340.20" stroke="#828282" stroke-width="2.2" stroke-linecap="butt"/>
<line x1="347.00" y1="345.80" x2="360.30" y2="345.80" stroke="#828282" stroke-width="1.9" stroke-dasharray="3.2 1.85" stroke-linecap="butt"/>
<line x1="264.00" y1="359.90" x2="277.30" y2="359.90" stroke="#2279d0" stroke-width="2.2" stroke-linecap="butt"/>
<line x1="264.00" y1="365.50" x2="277.30" y2="365.50" stroke="#2279d0" stroke-width="1.9" stroke-dasharray="3.2 1.85" stroke-linecap="butt"/>
<line x1="347.00" y1="360.40" x2="360.30" y2="360.40" stroke="#6cad2c" stroke-width="2.2" stroke-linecap="butt"/>
<line x1="347.00" y1="366.00" x2="360.30" y2="366.00" stroke="#6cad2c" stroke-width="1.9" stroke-dasharray="3.2 1.85" stroke-linecap="butt"/>
<path d="M263.8,462.3 L282.1,444.9 L299.9,422.9 L318.1,419.2 L318.1,429.2 L299.9,434.9 L282.1,454.9 L263.8,470.3 Z" fill="#c9c9c9" fill-opacity="0.85"/>
<path d="M263.8,469.5 L282.1,446.3 L299.9,435.9 L318.1,426.9 L318.1,438.9 L299.9,449.9 L282.1,458.3 L263.8,479.5 Z" fill="#b7cbf1" fill-opacity="0.85"/>
<path d="M263.8,494.7 L282.1,515.7 L299.9,521.6 L318.1,534.0 L318.1,542.0 L299.9,528.6 L282.1,521.7 L263.8,499.7 Z" fill="#c9c9c9" fill-opacity="0.85"/>
<path d="M263.8,485.7 L282.1,485.8 L299.9,491.7 L318.1,491.7 L318.1,498.7 L299.9,498.7 L282.1,491.8 L263.8,490.7 Z" fill="#b7cbf1" fill-opacity="0.85"/>
<path d="M344.1,454.1 L363.1,441.3 L381.8,426.9 L400.3,420.6 L400.3,432.6 L381.8,438.9 L363.1,449.3 L344.1,462.1 Z" fill="#c9c9c9" fill-opacity="0.85"/>
<path d="M344.1,456.8 L363.1,441.6 L381.8,425.4 L400.3,425.9 L400.3,439.9 L381.8,439.4 L363.1,453.6 L344.1,468.8 Z" fill="#d4e6a0" fill-opacity="0.85"/>
<path d="M344.1,486.8 L363.1,510.1 L381.8,528.9 L400.3,524.7 L400.3,534.7 L381.8,536.9 L363.1,517.1 L344.1,491.8 Z" fill="#c9c9c9" fill-opacity="0.85"/>
<path d="M344.1,488.2 L363.1,504.5 L381.8,516.8 L400.3,531.1 L400.3,541.1 L381.8,525.8 L363.1,512.5 L344.1,494.2 Z" fill="#d4e6a0" fill-opacity="0.85"/>
<line x1="253.30" y1="473.30" x2="410.40" y2="473.30" stroke="#333" stroke-width="1.9" stroke-dasharray="4.8 3.4" stroke-linecap="butt"/>
<path d="M263.8,466.3 L282.1,449.9 L299.9,428.9 L318.1,424.2" stroke="#6c6c6c" stroke-width="1.85" fill="none" stroke-linejoin="round"/>
<path d="M263.8,474.5 L282.1,452.3 L299.9,442.9 L318.1,432.9" stroke="#2279d0" stroke-width="1.85" fill="none" stroke-linejoin="round"/>
<path d="M263.8,497.2 L282.1,518.7 L299.9,525.1 L318.1,538.0" stroke="#707070" stroke-width="2.6" fill="none" stroke-dasharray="2.4 1.9"/>
<path d="M263.8,488.2 L282.1,488.8 L299.9,495.2 L318.1,495.2" stroke="#2279d0" stroke-width="2.6" fill="none" stroke-dasharray="2.4 1.9"/>
<path d="M344.1,458.1 L363.1,445.3 L381.8,432.9 L400.3,426.6" stroke="#6c6c6c" stroke-width="1.85" fill="none" stroke-linejoin="round"/>
<path d="M344.1,462.8 L363.1,447.6 L381.8,432.4 L400.3,432.9" stroke="#6cad2c" stroke-width="1.85" fill="none" stroke-linejoin="round"/>
<path d="M344.1,489.3 L363.1,513.6 L381.8,532.9 L400.3,529.7" stroke="#707070" stroke-width="2.6" fill="none" stroke-dasharray="2.4 1.9"/>
<path d="M344.1,491.2 L363.1,508.5 L381.8,521.3 L400.3,536.1" stroke="#6cad2c" stroke-width="2.6" fill="none" stroke-dasharray="2.4 1.9"/>
<path d="M257.3,367.6 H253.3 V578.4 H328" stroke="#3b3b3b" stroke-width="1.8" fill="none"/>
<line x1="334.20" y1="578.40" x2="410.40" y2="578.40" stroke="#3b3b3b" stroke-width="1.8" stroke-linecap="butt"/>
<line x1="253.30" y1="473.30" x2="256.30" y2="473.30" stroke="#3b3b3b" stroke-width="1.5" stroke-linecap="butt"/>
<line x1="263.80" y1="578.40" x2="263.80" y2="575.60" stroke="#3b3b3b" stroke-width="1.5" stroke-linecap="butt"/>
<line x1="282.10" y1="578.40" x2="282.10" y2="575.60" stroke="#3b3b3b" stroke-width="1.5" stroke-linecap="butt"/>
<line x1="299.90" y1="578.40" x2="299.90" y2="575.60" stroke="#3b3b3b" stroke-width="1.5" stroke-linecap="butt"/>
<line x1="318.10" y1="578.40" x2="318.10" y2="575.60" stroke="#3b3b3b" stroke-width="1.5" stroke-linecap="butt"/>
<line x1="344.10" y1="578.40" x2="344.10" y2="575.60" stroke="#3b3b3b" stroke-width="1.5" stroke-linecap="butt"/>
<line x1="363.10" y1="578.40" x2="363.10" y2="575.60" stroke="#3b3b3b" stroke-width="1.5" stroke-linecap="butt"/>
<line x1="381.80" y1="578.40" x2="381.80" y2="575.60" stroke="#3b3b3b" stroke-width="1.5" stroke-linecap="butt"/>
<line x1="400.30" y1="578.40" x2="400.30" y2="575.60" stroke="#3b3b3b" stroke-width="1.5" stroke-linecap="butt"/>
<path d="M449.4,256.2 H607.6" stroke="#3b3b3b" stroke-width="1.8" fill="none"/>
<line x1="449.40" y1="256.20" x2="449.40" y2="253.20" stroke="#3b3b3b" stroke-width="1.5" stroke-linecap="butt"/>
<line x1="502.10" y1="256.20" x2="502.10" y2="253.20" stroke="#3b3b3b" stroke-width="1.5" stroke-linecap="butt"/>
<line x1="554.90" y1="256.20" x2="554.90" y2="253.20" stroke="#3b3b3b" stroke-width="1.5" stroke-linecap="butt"/>
<line x1="607.60" y1="256.20" x2="607.60" y2="253.20" stroke="#3b3b3b" stroke-width="1.5" stroke-linecap="butt"/>
<line x1="448.80" y1="151.10" x2="608.00" y2="151.10" stroke="#454545" stroke-width="1.9" stroke-dasharray="4.8 3.4" stroke-linecap="butt"/>
<line x1="554.90" y1="45.20" x2="554.90" y2="256.20" stroke="#3a3a3a" stroke-width="2.1" stroke-linecap="butt"/>
<path d="M465.5,84.6 L465.5,84.0 L467.0,84.0 L469.1,84.0 L471.6,84.0 L474.3,84.0 L477.2,84.0 L480.0,84.0 L482.9,83.9 L486.0,83.8 L489.3,83.6 L492.6,83.3 L495.8,82.9 L499.0,82.4 L502.1,81.7 L505.2,80.8 L508.2,79.9 L511.3,78.9 L514.2,77.8 L517.0,76.9 L519.7,76.0 L522.2,75.0 L524.6,74.0 L527.1,73.1 L529.5,72.3 L532.0,71.6 L534.6,71.0 L537.4,70.5 L540.2,70.1 L542.9,69.8 L545.4,69.5 L547.6,69.3 L549.4,69.2 L550.7,69.1 L551.9,69.0 L553.1,69.1 L554.4,69.3 L556.0,69.7 L558.0,70.2 L560.1,71.0 L562.5,71.8 L564.8,72.7 L567.2,73.7 L569.5,74.7 L571.7,75.8 L573.9,76.9 L576.1,78.1 L578.2,79.3 L580.4,80.4 L582.6,81.3 L584.8,82.0 L587.1,82.5 L589.4,83.0 L591.6,83.3 L593.8,83.6 L595.8,83.9 L597.7,84.0 L599.7,84.0 L601.5,84.0 L603.2,84.0 L604.6,84.0 L605.6,84.0 L605.6,84.6 Z" fill="#b9cbef" fill-opacity="0.8"/>
<path d="M496.1,97.8 L496.1,98.4 L497.9,98.4 L500.5,98.4 L503.5,98.4 L506.7,98.5 L509.8,98.8 L512.5,99.3 L514.9,99.9 L517.2,100.7 L519.4,101.6 L521.6,102.5 L523.7,103.5 L525.7,104.4 L527.6,105.3 L529.4,106.3 L531.2,107.2 L532.9,108.1 L534.7,109.0 L536.6,109.8 L538.7,110.5 L540.9,111.2 L543.2,111.9 L545.5,112.4 L547.7,112.9 L549.8,113.1 L551.8,113.2 L553.7,113.1 L555.5,112.9 L557.3,112.5 L559.0,112.1 L560.7,111.6 L562.2,111.0 L563.6,110.2 L565.0,109.3 L566.3,108.4 L567.8,107.5 L569.5,106.6 L571.5,105.7 L573.6,104.7 L575.9,103.7 L578.2,102.8 L580.5,101.9 L582.6,101.1 L584.7,100.4 L586.8,99.7 L588.9,99.1 L590.8,98.6 L592.4,98.4 L593.6,98.4 L593.6,97.8 Z" fill="#dbe6a6" fill-opacity="0.8"/>
<path d="M491.7,202.9 L491.7,202.3 L493.8,202.2 L496.8,201.6 L500.2,201.0 L503.9,200.2 L507.4,199.4 L510.4,198.5 L512.9,197.5 L515.3,196.4 L517.4,195.1 L519.5,193.9 L521.5,192.8 L523.5,191.9 L525.4,191.1 L527.0,190.5 L528.7,190.0 L530.4,189.5 L532.2,189.1 L534.4,188.7 L537.0,188.4 L540.0,188.1 L543.2,187.9 L546.4,187.7 L549.4,187.6 L552.0,187.6 L554.2,187.6 L556.0,187.6 L557.7,187.7 L559.4,187.9 L561.0,188.2 L562.9,188.7 L565.0,189.5 L567.2,190.4 L569.4,191.6 L571.7,192.8 L573.9,193.9 L576.0,194.9 L578.0,195.8 L579.8,196.6 L581.6,197.5 L583.4,198.2 L585.2,198.9 L587.0,199.6 L589.0,200.2 L591.1,200.8 L593.2,201.4 L595.1,201.9 L596.8,202.3 L598.0,202.3 L598.0,202.9 Z" fill="#b9cbef" fill-opacity="0.8"/>
<path d="M491.7,215.5 L491.7,216.1 L494.1,216.1 L497.4,216.1 L501.3,216.1 L505.4,216.1 L509.2,216.1 L512.5,216.2 L515.2,216.4 L517.6,216.7 L519.9,217.0 L521.9,217.4 L523.8,217.9 L525.7,218.4 L527.4,219.0 L528.9,219.8 L530.3,220.6 L531.7,221.5 L533.0,222.4 L534.4,223.2 L535.8,224.1 L537.2,225.0 L538.7,225.9 L540.1,226.8 L541.6,227.6 L543.2,228.3 L544.9,229.0 L546.7,229.6 L548.6,230.2 L550.5,230.7 L552.3,231.0 L554.2,231.1 L556.0,231.0 L557.9,230.7 L559.8,230.3 L561.6,229.7 L563.4,229.1 L565.1,228.3 L566.7,227.4 L568.2,226.3 L569.6,225.1 L571.1,223.8 L572.5,222.7 L573.9,221.7 L575.3,220.9 L576.8,220.2 L578.2,219.5 L579.6,219.0 L581.1,218.4 L582.6,217.9 L584.3,217.4 L586.2,216.9 L588.1,216.5 L589.9,216.1 L591.4,216.1 L592.5,216.1 L592.5,215.5 Z" fill="#dbe6a6" fill-opacity="0.8"/>
<line x1="528.90" y1="84.20" x2="559.00" y2="84.20" stroke="#1170c2" stroke-width="2.7" stroke-linecap="butt"/>
<circle cx="544.8" cy="84.2" r="3.0" fill="#1170c2"/>
<line x1="534.30" y1="97.90" x2="559.70" y2="97.90" stroke="#6aa62f" stroke-width="2.7" stroke-linecap="butt"/>
<circle cx="547.5" cy="97.9" r="3.0" fill="#6aa62f"/>
<line x1="531.20" y1="202.40" x2="561.80" y2="202.40" stroke="#1170c2" stroke-width="2.7" stroke-linecap="butt"/>
<circle cx="547.6" cy="202.4" r="3.0" fill="#1170c2"/>
<line x1="541.50" y1="216.10" x2="564.00" y2="216.10" stroke="#6aa62f" stroke-width="2.7" stroke-linecap="butt"/>
<circle cx="552.6" cy="216.1" r="3.0" fill="#6aa62f"/>
<line x1="607.10" y1="75.30" x2="607.10" y2="101.60" stroke="#4a4a4a" stroke-width="1.7" stroke-linecap="butt"/>
<line x1="607.10" y1="194.20" x2="607.10" y2="220.80" stroke="#4a4a4a" stroke-width="1.7" stroke-linecap="butt"/>
<path d="M449.4,578.2 H607.6" stroke="#3b3b3b" stroke-width="1.8" fill="none"/>
<line x1="449.40" y1="578.20" x2="449.40" y2="575.20" stroke="#3b3b3b" stroke-width="1.5" stroke-linecap="butt"/>
<line x1="502.10" y1="578.20" x2="502.10" y2="575.20" stroke="#3b3b3b" stroke-width="1.5" stroke-linecap="butt"/>
<line x1="554.90" y1="578.20" x2="554.90" y2="575.20" stroke="#3b3b3b" stroke-width="1.5" stroke-linecap="butt"/>
<line x1="607.60" y1="578.20" x2="607.60" y2="575.20" stroke="#3b3b3b" stroke-width="1.5" stroke-linecap="butt"/>
<line x1="448.80" y1="473.10" x2="608.00" y2="473.10" stroke="#454545" stroke-width="1.9" stroke-dasharray="4.8 3.4" stroke-linecap="butt"/>
<line x1="554.90" y1="367.20" x2="554.90" y2="578.20" stroke="#3a3a3a" stroke-width="2.1" stroke-linecap="butt"/>
<path d="M471.0,413.3 L471.0,412.7 L475.6,412.7 L482.1,412.7 L489.7,412.7 L497.6,412.6 L504.8,412.3 L510.4,411.8 L514.4,411.1 L517.4,410.2 L519.8,409.2 L521.8,408.1 L523.7,407.1 L525.7,406.3 L527.8,405.7 L529.7,405.2 L531.4,404.8 L533.1,404.4 L534.8,403.9 L536.6,403.4 L538.4,402.7 L540.3,402.0 L542.1,401.1 L543.9,400.3 L545.8,399.6 L547.6,399.1 L549.4,398.7 L551.2,398.3 L553.1,398.0 L554.9,397.9 L556.7,397.9 L558.5,398.0 L560.3,398.3 L562.1,398.8 L563.9,399.5 L565.7,400.2 L567.5,401.0 L569.5,401.9 L571.7,402.9 L574.0,404.1 L576.5,405.3 L578.8,406.5 L580.9,407.6 L582.6,408.5 L583.9,409.1 L584.9,409.5 L585.6,409.9 L586.2,410.1 L586.6,410.4 L587.0,410.7 L587.3,411.1 L587.4,411.6 L587.4,412.1 L587.3,412.6 L587.2,412.7 L587.2,412.7 L587.2,413.3 Z" fill="#b9cbef" fill-opacity="0.8"/>
<path d="M509.3,425.7 L509.3,426.3 L511.1,426.3 L513.8,426.3 L516.8,426.7 L520.0,427.1 L523.1,427.7 L525.7,428.3 L527.8,429.0 L529.7,429.9 L531.5,430.8 L533.2,431.7 L534.8,432.7 L536.6,433.7 L538.5,434.8 L540.4,436.0 L542.3,437.2 L544.2,438.4 L546.0,439.4 L547.6,440.2 L549.0,440.8 L550.3,441.2 L551.5,441.5 L552.6,441.7 L553.8,441.7 L555.2,441.7 L556.7,441.6 L558.3,441.3 L559.9,441.0 L561.6,440.5 L563.4,439.9 L565.1,439.1 L566.8,438.1 L568.6,436.8 L570.3,435.4 L572.2,433.9 L574.0,432.6 L576.0,431.4 L578.1,430.4 L580.2,429.6 L582.5,428.8 L584.7,428.1 L587.0,427.5 L589.2,427.0 L591.5,426.6 L594.1,426.3 L596.6,426.3 L598.9,426.3 L600.9,426.3 L602.3,426.3 L602.3,425.7 Z" fill="#dbe6a6" fill-opacity="0.8"/>
<path d="M468.8,524.4 L468.8,523.8 L471.7,523.8 L475.8,523.8 L480.7,523.8 L485.8,523.8 L490.7,523.4 L495.0,522.9 L498.8,522.2 L502.4,521.2 L505.8,520.2 L509.0,519.1 L512.0,518.2 L514.7,517.4 L517.1,516.9 L519.1,516.5 L520.9,516.2 L522.5,516.0 L524.1,515.7 L525.7,515.2 L527.3,514.6 L528.8,513.8 L530.3,513.0 L531.7,512.1 L533.0,511.4 L534.4,510.8 L535.7,510.3 L537.0,509.9 L538.2,509.5 L539.4,509.2 L540.7,509.1 L542.1,509.1 L543.6,509.3 L545.2,509.6 L546.8,510.0 L548.5,510.6 L550.3,511.2 L552.0,511.9 L553.7,512.7 L555.4,513.6 L557.1,514.6 L558.9,515.6 L560.8,516.5 L562.9,517.4 L565.1,518.2 L567.5,518.9 L570.0,519.6 L572.6,520.2 L575.3,520.8 L578.2,521.4 L581.5,522.0 L585.2,522.6 L589.1,523.1 L592.7,523.7 L595.8,523.8 L598.0,523.8 L598.0,524.4 Z" fill="#b9cbef" fill-opacity="0.8"/>
<path d="M509.3,537.2 L509.3,537.8 L511.1,537.8 L513.8,538.0 L516.8,538.6 L520.0,539.2 L523.1,539.9 L525.7,540.5 L527.8,541.1 L529.7,541.7 L531.5,542.3 L533.2,542.9 L534.8,543.6 L536.6,544.4 L538.5,545.3 L540.4,546.3 L542.4,547.4 L544.3,548.5 L546.0,549.5 L547.6,550.3 L548.9,551.0 L550.0,551.7 L551.0,552.3 L552.0,552.7 L553.0,553.0 L554.2,553.2 L555.5,553.2 L556.9,553.0 L558.3,552.7 L559.8,552.3 L561.3,551.7 L562.9,551.0 L564.6,550.1 L566.3,548.9 L568.1,547.5 L570.0,546.2 L571.9,544.9 L573.9,543.8 L576.0,542.9 L578.1,542.0 L580.3,541.3 L582.6,540.6 L584.8,540.0 L587.0,539.4 L589.3,538.9 L591.9,538.4 L594.4,538.0 L596.7,537.8 L598.7,537.8 L600.1,537.8 L600.1,537.2 Z" fill="#dbe6a6" fill-opacity="0.8"/>
<line x1="540.00" y1="412.90" x2="566.60" y2="412.90" stroke="#1170c2" stroke-width="2.7" stroke-linecap="butt"/>
<circle cx="553.9" cy="412.9" r="3.0" fill="#1170c2"/>
<line x1="543.20" y1="426.20" x2="564.70" y2="426.20" stroke="#6aa62f" stroke-width="2.7" stroke-linecap="butt"/>
<circle cx="553.9" cy="426.2" r="3.0" fill="#6aa62f"/>
<line x1="529.00" y1="523.90" x2="554.60" y2="523.90" stroke="#1170c2" stroke-width="2.7" stroke-linecap="butt"/>
<circle cx="541.6" cy="523.9" r="3.0" fill="#1170c2"/>
<line x1="543.90" y1="537.70" x2="566.20" y2="537.70" stroke="#6aa62f" stroke-width="2.7" stroke-linecap="butt"/>
<circle cx="555.3" cy="537.7" r="3.0" fill="#6aa62f"/>
<line x1="607.10" y1="404.80" x2="607.10" y2="431.50" stroke="#4a4a4a" stroke-width="1.7" stroke-linecap="butt"/>
<line x1="607.10" y1="516.60" x2="607.10" y2="543.80" stroke="#4a4a4a" stroke-width="1.7" stroke-linecap="butt"/>
<line x1="528.60" y1="367.20" x2="528.60" y2="375.80" stroke="#3a3a3a" stroke-width="1.1" stroke-linecap="butt"/>
<text transform="translate(-0.22 11.10) scale(1.07 1)" font-size="16" font-weight="bold" fill="#231f20" textLength="0.73" lengthAdjust="spacing">a</text>
<text transform="translate(191.34 11.70) scale(1.07 1)" font-size="16" font-weight="bold" fill="#231f20" textLength="7.41" lengthAdjust="spacing">b</text>
<text transform="translate(-0.22 330.92) scale(1.07 1)" font-size="16" font-weight="bold" fill="#231f20" textLength="3.76" lengthAdjust="spacing">c</text>
<text transform="translate(190.73 330.99) scale(1.07 1)" font-size="16" font-weight="bold" fill="#231f20" textLength="6.90" lengthAdjust="spacing">d</text>
<text transform="translate(29.39 24.58) scale(1.12 1)" font-size="16" font-weight="normal" fill="#303030" textLength="22.61" lengthAdjust="spacing">MA</text>
<text transform="translate(96.34 24.12) scale(1.07 1)" font-size="14" font-weight="normal" fill="#303030" textLength="52.42" lengthAdjust="spacing">Pre-cool</text>
<text transform="translate(70.61 41.65) scale(1.07 1)" font-size="14.5" font-weight="normal" fill="#1a1a1a" textLength="29.80" lengthAdjust="spacing">Near</text>
<text transform="translate(113.22 82.58) scale(1.07 1)" font-size="14.5" font-weight="normal" fill="#1a1a1a" textLength="20.47" lengthAdjust="spacing">Far</text>
<text transform="translate(88.17 296.86) scale(1.07 1)" font-size="15.5" font-weight="normal" fill="#303030" textLength="82.37" lengthAdjust="spacing">Distance (°)</text>
<text transform="translate(25.44 196.56) rotate(-90) scale(1.07 1)" font-size="16.5" font-weight="normal" fill="#303030" textLength="85.09" lengthAdjust="spacing">Neuronal d&#39;</text>
<text transform="translate(29.39 346.58) scale(1.12 1)" font-size="16" font-weight="normal" fill="#303030" textLength="22.61" lengthAdjust="spacing">MB</text>
<text transform="translate(91.34 344.49) scale(1.07 1)" font-size="14" font-weight="normal" fill="#303030" textLength="52.67" lengthAdjust="spacing">Pre-cool</text>
<text transform="translate(68.05 364.01) scale(1.07 1)" font-size="14.5" font-weight="normal" fill="#1a1a1a" textLength="28.37" lengthAdjust="spacing">Near</text>
<text transform="translate(114.05 403.60) scale(1.07 1)" font-size="14.5" font-weight="normal" fill="#1a1a1a" textLength="20.72" lengthAdjust="spacing">Far</text>
<text transform="translate(86.78 618.23) scale(1.07 1)" font-size="15.5" font-weight="normal" fill="#303030" textLength="82.80" lengthAdjust="spacing">Distance (°)</text>
<text transform="translate(24.99 518.61) rotate(-90) scale(1.07 1)" font-size="16.5" font-weight="normal" fill="#303030" textLength="86.27" lengthAdjust="spacing">Neuronal d&#39;</text>
<text transform="translate(39.39 51.91) scale(1.07 1)" font-size="15" font-weight="normal" fill="#303030" textLength="20.08" lengthAdjust="spacing">3.0</text>
<text transform="translate(39.39 373.52) scale(1.07 1)" font-size="15" font-weight="normal" fill="#303030" textLength="20.08" lengthAdjust="spacing">3.0</text>
<text transform="translate(39.39 93.18) scale(1.07 1)" font-size="15" font-weight="normal" fill="#303030" textLength="20.08" lengthAdjust="spacing">2.0</text>
<text transform="translate(39.39 411.52) scale(1.07 1)" font-size="15" font-weight="normal" fill="#303030" textLength="20.08" lengthAdjust="spacing">2.0</text>
<text transform="translate(39.83 135.35) scale(1.07 1)" font-size="15" font-weight="normal" fill="#303030" textLength="19.57" lengthAdjust="spacing">1.0</text>
<text transform="translate(39.83 449.52) scale(1.07 1)" font-size="15" font-weight="normal" fill="#303030" textLength="19.57" lengthAdjust="spacing">1.0</text>
<text transform="translate(53.12 177.52) scale(1.07 1)" font-size="15" font-weight="normal" fill="#303030" textLength="3.63" lengthAdjust="spacing">0</text>
<text transform="translate(53.12 487.52) scale(1.07 1)" font-size="15" font-weight="normal" fill="#303030" textLength="3.63" lengthAdjust="spacing">0</text>
<text transform="translate(30.17 219.69) scale(1.07 1)" font-size="15" font-weight="normal" fill="#303030" textLength="28.66" lengthAdjust="spacing">−1.0</text>
<text transform="translate(30.17 525.07) scale(1.07 1)" font-size="15" font-weight="normal" fill="#303030" textLength="28.66" lengthAdjust="spacing">−1.0</text>
<text transform="translate(30.17 260.96) scale(1.07 1)" font-size="15" font-weight="normal" fill="#303030" textLength="28.66" lengthAdjust="spacing">−2.0</text>
<text transform="translate(30.17 563.52) scale(1.07 1)" font-size="15" font-weight="normal" fill="#303030" textLength="28.66" lengthAdjust="spacing">−2.0</text>
<text transform="translate(65.73 277.89) scale(1.07 1)" font-size="15" font-weight="normal" fill="#303030" textLength="5.99" lengthAdjust="spacing">0</text>
<text transform="translate(108.02 277.89) scale(1.07 1)" font-size="15" font-weight="normal" fill="#303030" textLength="20.42" lengthAdjust="spacing">1.0</text>
<text transform="translate(157.75 277.89) scale(1.07 1)" font-size="15" font-weight="normal" fill="#303030" textLength="21.26" lengthAdjust="spacing">2.0</text>
<text transform="translate(65.73 600.29) scale(1.07 1)" font-size="15" font-weight="normal" fill="#303030" textLength="5.99" lengthAdjust="spacing">0</text>
<text transform="translate(107.15 600.29) scale(1.07 1)" font-size="15" font-weight="normal" fill="#303030" textLength="20.00" lengthAdjust="spacing">0.5</text>
<text transform="translate(154.19 600.29) scale(1.07 1)" font-size="15" font-weight="normal" fill="#303030" textLength="20.42" lengthAdjust="spacing">1.0</text>
<text transform="translate(218.17 24.58) scale(1.12 1)" font-size="16" font-weight="normal" fill="#303030" textLength="21.72" lengthAdjust="spacing">MA</text>
<text transform="translate(281.34 27.30) scale(1.07 1)" font-size="14" font-weight="normal" fill="#303030" textLength="52.67" lengthAdjust="spacing">Pre-cool</text>
<text transform="translate(281.34 46.81) scale(1.07 1)" font-size="14" font-weight="normal" fill="#303030" textLength="28.60" lengthAdjust="spacing">Cool</text>
<text transform="translate(364.34 27.06) scale(1.07 1)" font-size="14" font-weight="normal" fill="#303030" textLength="60.05" lengthAdjust="spacing">Pre-sham</text>
<text transform="translate(364.34 46.47) scale(1.07 1)" font-size="14" font-weight="normal" fill="#303030" textLength="35.28" lengthAdjust="spacing">Sham</text>
<text transform="translate(224.78 50.18) scale(1.07 1)" font-size="14.5" font-weight="normal" fill="#303030" textLength="20.14" lengthAdjust="spacing">0.5</text>
<text transform="translate(240.12 156.69) scale(1.07 1)" font-size="14.5" font-weight="normal" fill="#303030" textLength="4.19" lengthAdjust="spacing">0</text>
<text transform="translate(213.17 261.69) scale(1.07 1)" font-size="14.5" font-weight="normal" fill="#303030" textLength="28.52" lengthAdjust="spacing">−0.5</text>
<text transform="translate(259.00 278.62) scale(1.07 1)" font-size="15" font-weight="normal" fill="#303030" textLength="14.23" lengthAdjust="spacing">3</text>
<text transform="translate(277.39 278.62) scale(1.07 1)" font-size="15" font-weight="normal" fill="#303030" textLength="10.03" lengthAdjust="spacing">5</text>
<text transform="translate(295.95 278.62) scale(1.07 1)" font-size="15" font-weight="normal" fill="#303030" textLength="10.87" lengthAdjust="spacing">7</text>
<text transform="translate(313.61 278.62) scale(1.07 1)" font-size="15" font-weight="normal" fill="#303030" textLength="10.03" lengthAdjust="spacing">9</text>
<text transform="translate(338.61 278.62) scale(1.07 1)" font-size="15" font-weight="normal" fill="#303030" textLength="10.03" lengthAdjust="spacing">3</text>
<text transform="translate(357.39 278.62) scale(1.07 1)" font-size="15" font-weight="normal" fill="#303030" textLength="10.03" lengthAdjust="spacing">5</text>
<text transform="translate(376.00 278.62) scale(1.07 1)" font-size="15" font-weight="normal" fill="#303030" textLength="14.23" lengthAdjust="spacing">7</text>
<text transform="translate(395.12 278.62) scale(1.07 1)" font-size="15" font-weight="normal" fill="#303030" textLength="10.03" lengthAdjust="spacing">9</text>
<text transform="translate(269.00 299.32) scale(1.07 1)" font-size="15.5" font-weight="normal" fill="#303030" textLength="100.66" lengthAdjust="spacing">Collinear bars</text>
<text transform="translate(216.63 203.39) rotate(-90) scale(1.07 1)" font-size="16.5" font-weight="normal" fill="#303030" textLength="85.76" lengthAdjust="spacing">Neuronal d&#39;</text>
<text transform="translate(274.55 103.78) rotate(-90) scale(1.07 1)" font-size="14.5" font-weight="normal" fill="#1a1a1a" textLength="28.29" lengthAdjust="spacing">Near</text>
<text transform="translate(274.82 218.66) rotate(-90) scale(1.07 1)" font-size="14.5" font-weight="normal" fill="#1a1a1a" textLength="19.46" lengthAdjust="spacing">Far</text>
<text transform="translate(218.17 346.58) scale(1.12 1)" font-size="16" font-weight="normal" fill="#303030" textLength="22.53" lengthAdjust="spacing">MB</text>
<text transform="translate(281.34 349.30) scale(1.07 1)" font-size="14" font-weight="normal" fill="#303030" textLength="52.67" lengthAdjust="spacing">Pre-cool</text>
<text transform="translate(281.34 368.81) scale(1.07 1)" font-size="14" font-weight="normal" fill="#303030" textLength="28.60" lengthAdjust="spacing">Cool</text>
<text transform="translate(364.34 349.06) scale(1.07 1)" font-size="14" font-weight="normal" fill="#303030" textLength="60.05" lengthAdjust="spacing">Pre-sham</text>
<text transform="translate(364.34 368.47) scale(1.07 1)" font-size="14" font-weight="normal" fill="#303030" textLength="35.28" lengthAdjust="spacing">Sham</text>
<text transform="translate(224.78 372.18) scale(1.07 1)" font-size="14.5" font-weight="normal" fill="#303030" textLength="20.14" lengthAdjust="spacing">0.5</text>
<text transform="translate(240.12 478.69) scale(1.07 1)" font-size="14.5" font-weight="normal" fill="#303030" textLength="4.19" lengthAdjust="spacing">0</text>
<text transform="translate(213.17 583.69) scale(1.07 1)" font-size="14.5" font-weight="normal" fill="#303030" textLength="28.52" lengthAdjust="spacing">−0.5</text>
<text transform="translate(259.00 600.62) scale(1.07 1)" font-size="15" font-weight="normal" fill="#303030" textLength="14.23" lengthAdjust="spacing">3</text>
<text transform="translate(277.39 600.62) scale(1.07 1)" font-size="15" font-weight="normal" fill="#303030" textLength="10.03" lengthAdjust="spacing">5</text>
<text transform="translate(295.95 600.62) scale(1.07 1)" font-size="15" font-weight="normal" fill="#303030" textLength="10.87" lengthAdjust="spacing">7</text>
<text transform="translate(313.61 600.62) scale(1.07 1)" font-size="15" font-weight="normal" fill="#303030" textLength="10.03" lengthAdjust="spacing">9</text>
<text transform="translate(338.61 600.62) scale(1.07 1)" font-size="15" font-weight="normal" fill="#303030" textLength="10.03" lengthAdjust="spacing">3</text>
<text transform="translate(357.39 600.62) scale(1.07 1)" font-size="15" font-weight="normal" fill="#303030" textLength="10.03" lengthAdjust="spacing">5</text>
<text transform="translate(376.00 600.62) scale(1.07 1)" font-size="15" font-weight="normal" fill="#303030" textLength="14.23" lengthAdjust="spacing">7</text>
<text transform="translate(395.12 600.62) scale(1.07 1)" font-size="15" font-weight="normal" fill="#303030" textLength="10.03" lengthAdjust="spacing">9</text>
<text transform="translate(269.00 621.32) scale(1.07 1)" font-size="15.5" font-weight="normal" fill="#303030" textLength="100.66" lengthAdjust="spacing">Collinear bars</text>
<text transform="translate(216.63 518.61) rotate(-90) scale(1.07 1)" font-size="16.5" font-weight="normal" fill="#303030" textLength="86.27" lengthAdjust="spacing">Neuronal d&#39;</text>
<text transform="translate(274.05 434.78) rotate(-90) scale(1.07 1)" font-size="14.5" font-weight="normal" fill="#1a1a1a" textLength="29.55" lengthAdjust="spacing">Near</text>
<text transform="translate(274.56 541.66) rotate(-90) scale(1.07 1)" font-size="14.5" font-weight="normal" fill="#1a1a1a" textLength="18.45" lengthAdjust="spacing">Far</text>
<text transform="translate(448.95 54.61) scale(1.07 1)" font-size="11.5" font-weight="normal" fill="#303030" textLength="79.72" lengthAdjust="spacing">Cool − Pre-cool</text>
<text transform="translate(449.00 142.70) scale(1.07 1)" font-size="11.5" font-weight="normal" fill="#303030" textLength="91.59" lengthAdjust="spacing">Sham − Pre-sham</text>
<text transform="translate(449.00 169.04) scale(1.07 1)" font-size="11.5" font-weight="normal" fill="#303030" textLength="78.96" lengthAdjust="spacing">Pre-cool − Cool</text>
<text transform="translate(449.00 246.80) scale(1.07 1)" font-size="11.5" font-weight="normal" fill="#303030" textLength="91.51" lengthAdjust="spacing">Pre-sham − Sham</text>
<text transform="translate(449.96 104.78) rotate(-90) scale(1.07 1)" font-size="14.5" font-weight="normal" fill="#1a1a1a" textLength="28.87" lengthAdjust="spacing">Near</text>
<text transform="translate(450.58 219.05) rotate(-90) scale(1.07 1)" font-size="14.5" font-weight="normal" fill="#1a1a1a" textLength="18.78" lengthAdjust="spacing">Far</text>
<text transform="translate(613.45 75.61) rotate(90) scale(1.07 1)" font-size="13" font-weight="normal" fill="#303030" textLength="23.89" lengthAdjust="spacing">n.s.</text>
<text transform="translate(609.41 199.51) rotate(90) scale(1.07 1)" font-size="12" font-weight="normal" fill="#303030" textLength="14.83" lengthAdjust="spacing">***</text>
<text transform="translate(630.51 82.98) scale(1.07 1)" font-size="16" font-weight="normal" fill="#303030" textLength="43.80" lengthAdjust="spacing">ΔCool</text>
<text transform="translate(630.51 111.86) scale(1.07 1)" font-size="16" font-weight="normal" fill="#303030" textLength="52.80" lengthAdjust="spacing">ΔSham</text>
<text transform="translate(630.51 198.94) scale(1.07 1)" font-size="16" font-weight="normal" fill="#303030" textLength="44.05" lengthAdjust="spacing">ΔCool</text>
<text transform="translate(630.51 229.97) scale(1.07 1)" font-size="16" font-weight="normal" fill="#303030" textLength="52.80" lengthAdjust="spacing">ΔSham</text>
<text transform="translate(434.53 278.18) scale(1.07 1)" font-size="15" font-weight="normal" fill="#303030" textLength="28.66" lengthAdjust="spacing">−1.0</text>
<text transform="translate(487.14 278.18) scale(1.07 1)" font-size="15" font-weight="normal" fill="#303030" textLength="28.66" lengthAdjust="spacing">−0.5</text>
<text transform="translate(550.95 278.18) scale(1.07 1)" font-size="15" font-weight="normal" fill="#303030" textLength="5.99" lengthAdjust="spacing">0</text>
<text transform="translate(597.90 278.18) scale(1.07 1)" font-size="15" font-weight="normal" fill="#303030" textLength="19.15" lengthAdjust="spacing">0.5</text>
<text transform="translate(516.95 298.81) scale(1.07 1)" font-size="17" font-weight="normal" fill="#303030" textLength="23.55" lengthAdjust="spacing">Δd&#39;</text>
<text transform="translate(449.12 376.13) scale(1.07 1)" font-size="11.5" font-weight="normal" fill="#303030" textLength="79.13" lengthAdjust="spacing">Cool − Pre-cool</text>
<text transform="translate(449.00 467.31) scale(1.07 1)" font-size="11.5" font-weight="normal" fill="#303030" textLength="91.59" lengthAdjust="spacing">Sham − Pre-sham</text>
<text transform="translate(449.00 489.92) scale(1.07 1)" font-size="11.5" font-weight="normal" fill="#303030" textLength="78.96" lengthAdjust="spacing">Pre-cool − Cool</text>
<text transform="translate(449.00 572.49) scale(1.07 1)" font-size="11.5" font-weight="normal" fill="#303030" textLength="91.51" lengthAdjust="spacing">Pre-sham − Sham</text>
<text transform="translate(450.39 434.44) rotate(-90) scale(1.07 1)" font-size="14.5" font-weight="normal" fill="#1a1a1a" textLength="29.46" lengthAdjust="spacing">Near</text>
<text transform="translate(449.87 541.00) rotate(-90) scale(1.07 1)" font-size="14.5" font-weight="normal" fill="#1a1a1a" textLength="19.88" lengthAdjust="spacing">Far</text>
<text transform="translate(613.86 406.34) rotate(90) scale(1.07 1)" font-size="13" font-weight="normal" fill="#303030" textLength="23.21" lengthAdjust="spacing">n.s.</text>
<text transform="translate(609.41 521.51) rotate(90) scale(1.07 1)" font-size="12" font-weight="normal" fill="#303030" textLength="14.83" lengthAdjust="spacing">***</text>
<text transform="translate(630.12 411.51) scale(1.07 1)" font-size="16" font-weight="normal" fill="#303030" textLength="44.72" lengthAdjust="spacing">ΔCool</text>
<text transform="translate(630.12 440.68) scale(1.07 1)" font-size="16" font-weight="normal" fill="#303030" textLength="52.80" lengthAdjust="spacing">ΔSham</text>
<text transform="translate(630.90 522.38) scale(1.07 1)" font-size="16" font-weight="normal" fill="#303030" textLength="43.12" lengthAdjust="spacing">ΔCool</text>
<text transform="translate(630.90 551.38) scale(1.07 1)" font-size="16" font-weight="normal" fill="#303030" textLength="52.80" lengthAdjust="spacing">ΔSham</text>
<text transform="translate(434.53 600.18) scale(1.07 1)" font-size="15" font-weight="normal" fill="#303030" textLength="28.66" lengthAdjust="spacing">−1.0</text>
<text transform="translate(487.14 600.18) scale(1.07 1)" font-size="15" font-weight="normal" fill="#303030" textLength="28.66" lengthAdjust="spacing">−0.5</text>
<text transform="translate(550.95 600.18) scale(1.07 1)" font-size="15" font-weight="normal" fill="#303030" textLength="5.99" lengthAdjust="spacing">0</text>
<text transform="translate(597.90 600.18) scale(1.07 1)" font-size="15" font-weight="normal" fill="#303030" textLength="19.15" lengthAdjust="spacing">0.5</text>
<text transform="translate(516.95 621.24) scale(1.07 1)" font-size="17" font-weight="normal" fill="#303030" textLength="23.55" lengthAdjust="spacing">Δd&#39;</text>
</svg></body></html>
